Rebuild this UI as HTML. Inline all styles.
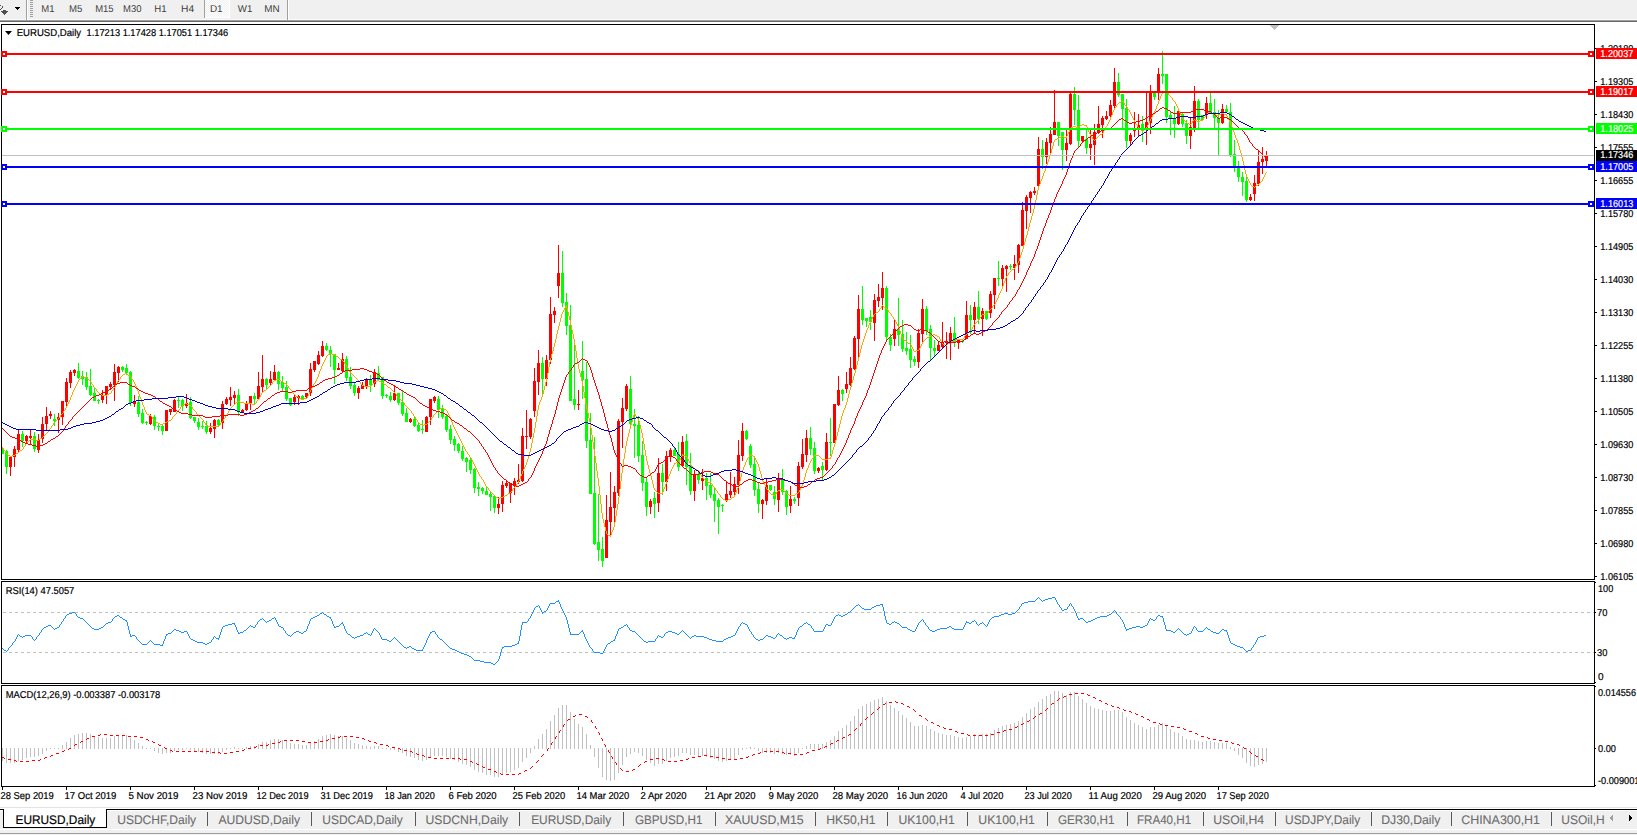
<!DOCTYPE html>
<html lang="en"><head><meta charset="utf-8"><title>EURUSD,Daily</title>
<style>html,body{margin:0;padding:0;background:#fff;overflow:hidden}svg{display:block;font-family:'Liberation Sans',sans-serif}text{white-space:pre;text-rendering:geometricPrecision}</style>
</head><body>
<svg width="1637" height="835" viewBox="0 0 1637 835">
<rect x="0" y="0" width="1637" height="835" fill="#fff"/>
<g id="toolbar">
<g shape-rendering="crispEdges">
<rect x="0" y="0" width="1637" height="20" fill="#f0f0f0"/>
<rect x="0" y="19" width="1637" height="1" fill="#fafafa"/>
<rect x="0" y="20" width="1637" height="1" fill="#a0a0a0"/>
<rect x="0" y="21" width="1637" height="1" fill="#696969"/>
<rect x="26" y="0" width="1" height="20" fill="#a0a0a0"/>
<rect x="27" y="0" width="1" height="20" fill="#ffffff"/>
<rect x="30" y="0" width="3" height="1" fill="#a0a0a0"/>
<rect x="30" y="2" width="3" height="1" fill="#a0a0a0"/>
<rect x="30" y="4" width="3" height="1" fill="#a0a0a0"/>
<rect x="30" y="6" width="3" height="1" fill="#a0a0a0"/>
<rect x="30" y="8" width="3" height="1" fill="#a0a0a0"/>
<rect x="30" y="10" width="3" height="1" fill="#a0a0a0"/>
<rect x="30" y="12" width="3" height="1" fill="#a0a0a0"/>
<rect x="30" y="14" width="3" height="1" fill="#a0a0a0"/>
<rect x="30" y="16" width="3" height="1" fill="#a0a0a0"/>
<pattern id="chk" width="2" height="2" patternUnits="userSpaceOnUse"><rect width="2" height="2" fill="#f0f0f0"/><rect width="1" height="1" fill="#fff"/><rect x="1" y="1" width="1" height="1" fill="#fff"/></pattern>
<rect x="205" y="0" width="24" height="17" fill="url(#chk)"/>
<rect x="204" y="0" width="1" height="18" fill="#a0a0a0"/>
<rect x="205" y="17" width="25" height="1" fill="#fff"/>
<rect x="229" y="0" width="1" height="18" fill="#fff"/>
<rect x="287" y="0" width="1" height="20" fill="#a0a0a0"/>
<rect x="288" y="0" width="1" height="20" fill="#ffffff"/>
</g>
<path shape-rendering="crispEdges" fill="#505050" d="M0 5h1v1h-1zM2 6h1v2h-1zM1 8h1v1h-1zM0 9h1v1h-1zM3 10h3v1h-3zM1 11h7v1h-7zM2 12h5v1h-5zM3 13h3v1h-3zM4 14h1v1h-1z"/>

<path shape-rendering="crispEdges" fill="#000" d="M15 7h5v1h-5zM16 8h3v1h-3zM17 9h1v1h-1z"/>
<text x="41.3" y="12" font-size="10" fill="#404040" textLength="13.2" lengthAdjust="spacingAndGlyphs">M1</text>
<text x="69.1" y="12" font-size="10" fill="#404040" textLength="13.3" lengthAdjust="spacingAndGlyphs">M5</text>
<text x="95.2" y="12" font-size="10" fill="#404040" textLength="18.4" lengthAdjust="spacingAndGlyphs">M15</text>
<text x="123.0" y="12" font-size="10" fill="#404040" textLength="18.4" lengthAdjust="spacingAndGlyphs">M30</text>
<text x="154.2" y="12" font-size="10" fill="#404040" textLength="12.3" lengthAdjust="spacingAndGlyphs">H1</text>
<text x="181.1" y="12" font-size="10" fill="#404040" textLength="13.1" lengthAdjust="spacingAndGlyphs">H4</text>
<text x="209.9" y="12" font-size="10" fill="#404040" textLength="12.7" lengthAdjust="spacingAndGlyphs">D1</text>
<text x="237.8" y="12" font-size="10" fill="#404040" textLength="14.5" lengthAdjust="spacingAndGlyphs">W1</text>
<text x="264.2" y="12" font-size="10" fill="#404040" textLength="15.4" lengthAdjust="spacingAndGlyphs">MN</text>
</g>
<g id="main-chart">
<g shape-rendering="crispEdges">
<path fill="#ff0000" d="M10 456h1v20h-1zM9 457h3v10h-3zM14 446h1v21h-1zM13 449h3v8h-3zM18 430h1v22h-1zM17 434h3v16h-3zM26 435h1v8h-1zM25 436h3v5h-3zM30 430h1v15h-1zM29 436h3v2h-3zM38 434h1v19h-1zM37 440h3v10h-3zM42 417h1v26h-1zM41 424h3v15h-3zM46 407h1v23h-1zM45 416h3v8h-3zM50 411h1v8h-1zM49 414h3v2h-3zM58 413h1v20h-1zM57 417h3v3h-3zM62 401h1v24h-1zM61 401h3v16h-3zM66 378h1v28h-1zM65 382h3v20h-3zM70 370h1v18h-1zM69 372h3v11h-3zM74 369h1v7h-1zM73 370h3v3h-3zM102 390h1v13h-1zM101 395h3v5h-3zM106 386h1v18h-1zM105 386h3v9h-3zM110 382h1v8h-1zM109 384h3v3h-3zM114 364h1v37h-1zM113 372h3v13h-3zM118 366h1v16h-1zM117 367h3v6h-3zM134 395h1v12h-1zM133 401h3v3h-3zM150 414h1v11h-1zM149 416h3v8h-3zM166 410h1v21h-1zM165 410h3v21h-3zM170 409h1v6h-1zM169 409h3v3h-3zM174 399h1v13h-1zM173 400h3v12h-3zM186 394h1v14h-1zM185 403h3v3h-3zM210 423h1v11h-1zM209 428h3v4h-3zM214 419h1v19h-1zM213 420h3v9h-3zM222 401h1v28h-1zM221 404h3v19h-3zM226 397h1v8h-1zM225 399h3v5h-3zM230 387h1v19h-1zM229 397h3v3h-3zM234 391h1v14h-1zM233 395h3v3h-3zM242 409h1v4h-1zM241 410h3v3h-3zM246 401h1v10h-1zM245 404h3v6h-3zM250 396h1v14h-1zM249 396h3v7h-3zM258 372h1v27h-1zM257 386h3v13h-3zM262 355h1v37h-1zM261 379h3v8h-3zM270 371h1v14h-1zM269 379h3v4h-3zM274 365h1v15h-1zM273 372h3v8h-3zM294 395h1v10h-1zM293 397h3v5h-3zM298 395h1v10h-1zM297 396h3v2h-3zM306 393h1v6h-1zM305 393h3v4h-3zM310 363h1v33h-1zM309 369h3v24h-3zM314 361h1v11h-1zM313 361h3v9h-3zM318 351h1v14h-1zM317 355h3v9h-3zM322 341h1v16h-1zM321 346h3v10h-3zM338 363h1v7h-1zM337 368h3v2h-3zM342 353h1v19h-1zM341 359h3v12h-3zM358 386h1v13h-1zM357 388h3v5h-3zM362 382h1v7h-1zM361 385h3v4h-3zM366 378h1v11h-1zM365 380h3v6h-3zM374 369h1v18h-1zM373 372h3v12h-3zM394 386h1v15h-1zM393 393h3v7h-3zM410 418h1v5h-1zM409 419h3v3h-3zM426 416h1v16h-1zM425 417h3v15h-3zM430 399h1v26h-1zM429 399h3v18h-3zM434 396h1v7h-1zM433 397h3v4h-3zM498 497h1v17h-1zM497 504h3v4h-3zM502 481h1v31h-1zM501 485h3v19h-3zM506 480h1v8h-1zM505 483h3v3h-3zM510 483h1v20h-1zM509 483h3v10h-3zM514 478h1v17h-1zM513 481h3v4h-3zM518 464h1v20h-1zM517 480h3v2h-3zM522 428h1v54h-1zM521 436h3v45h-3zM526 410h1v39h-1zM525 436h3v1h-3zM530 418h1v21h-1zM529 419h3v18h-3zM534 368h1v49h-1zM533 381h3v30h-3zM538 350h1v45h-1zM537 363h3v19h-3zM546 355h1v31h-1zM545 360h3v19h-3zM550 297h1v67h-1zM549 314h3v46h-3zM554 307h1v16h-1zM553 311h3v4h-3zM558 245h1v53h-1zM557 273h3v13h-3zM578 390h1v20h-1zM577 404h3v1h-3zM606 495h1v63h-1zM605 520h3v38h-3zM610 472h1v64h-1zM609 507h3v15h-3zM614 486h1v37h-1zM613 492h3v16h-3zM618 419h1v77h-1zM617 421h3v72h-3zM622 398h1v50h-1zM621 408h3v14h-3zM626 384h1v27h-1zM625 386h3v23h-3zM650 499h1v15h-1zM649 501h3v6h-3zM658 458h1v54h-1zM657 473h3v30h-3zM666 451h1v40h-1zM665 456h3v26h-3zM670 448h1v14h-1zM669 450h3v7h-3zM682 436h1v31h-1zM681 442h3v24h-3zM694 470h1v31h-1zM693 474h3v17h-3zM702 469h1v21h-1zM701 478h3v3h-3zM726 481h1v21h-1zM725 494h3v6h-3zM730 472h1v26h-1zM729 491h3v4h-3zM734 477h1v19h-1zM733 484h3v8h-3zM738 440h1v54h-1zM737 455h3v30h-3zM742 423h1v38h-1zM741 431h3v25h-3zM762 499h1v20h-1zM761 500h3v4h-3zM766 478h1v27h-1zM765 485h3v16h-3zM778 473h1v39h-1zM777 480h3v20h-3zM790 486h1v27h-1zM789 499h3v7h-3zM798 462h1v44h-1zM797 466h3v32h-3zM802 439h1v30h-1zM801 454h3v13h-3zM806 430h1v32h-1zM805 438h3v17h-3zM818 467h1v6h-1zM817 468h3v3h-3zM826 433h1v38h-1zM825 442h3v28h-3zM834 404h1v39h-1zM833 404h3v39h-3zM838 376h1v30h-1zM837 390h3v15h-3zM846 372h1v21h-1zM845 384h3v5h-3zM850 357h1v29h-1zM849 368h3v17h-3zM854 336h1v34h-1zM853 338h3v31h-3zM858 295h1v62h-1zM857 309h3v30h-3zM874 294h1v47h-1zM873 300h3v23h-3zM878 284h1v23h-1zM877 297h3v4h-3zM882 272h1v38h-1zM881 288h3v10h-3zM894 320h1v26h-1zM893 329h3v10h-3zM918 329h1v39h-1zM917 333h3v29h-3zM922 299h1v43h-1zM921 309h3v25h-3zM938 341h1v10h-1zM937 345h3v6h-3zM942 322h1v26h-1zM941 342h3v5h-3zM946 332h1v27h-1zM945 341h3v2h-3zM950 327h1v33h-1zM949 333h3v9h-3zM958 339h1v10h-1zM957 340h3v3h-3zM966 301h1v38h-1zM965 315h3v24h-3zM974 302h1v31h-1zM973 307h3v13h-3zM982 308h1v28h-1zM981 311h3v8h-3zM990 291h1v27h-1zM989 294h3v19h-3zM994 278h1v31h-1zM993 278h3v17h-3zM1002 265h1v21h-1zM1001 268h3v11h-3zM1006 265h1v27h-1zM1005 266h3v3h-3zM1014 255h1v25h-1zM1013 264h3v4h-3zM1018 244h1v29h-1zM1017 245h3v20h-3zM1022 202h1v44h-1zM1021 210h3v36h-3zM1026 195h1v34h-1zM1025 197h3v14h-3zM1030 191h1v22h-1zM1029 192h3v6h-3zM1034 187h1v8h-1zM1033 191h3v2h-3zM1038 137h1v50h-1zM1037 149h3v37h-3zM1046 138h1v26h-1zM1045 142h3v15h-3zM1050 127h1v26h-1zM1049 134h3v9h-3zM1054 90h1v45h-1zM1053 122h3v13h-3zM1066 130h1v31h-1zM1065 143h3v7h-3zM1070 92h1v53h-1zM1069 94h3v50h-3zM1082 136h1v6h-1zM1081 136h3v5h-3zM1090 129h1v31h-1zM1089 144h3v4h-3zM1094 124h1v41h-1zM1093 132h3v13h-3zM1098 106h1v28h-1zM1097 124h3v9h-3zM1102 116h1v22h-1zM1101 118h3v7h-3zM1106 111h1v9h-1zM1105 116h3v3h-3zM1110 100h1v18h-1zM1109 105h3v11h-3zM1114 68h1v41h-1zM1113 82h3v24h-3zM1130 133h1v13h-1zM1129 135h3v6h-3zM1134 112h1v25h-1zM1133 130h3v1h-3zM1138 114h1v23h-1zM1137 125h3v3h-3zM1146 93h1v52h-1zM1145 122h3v6h-3zM1150 85h1v49h-1zM1149 92h3v31h-3zM1158 68h1v32h-1zM1157 74h3v18h-3zM1178 110h1v15h-1zM1177 111h3v13h-3zM1190 118h1v31h-1zM1189 127h3v9h-3zM1194 86h1v46h-1zM1193 101h3v27h-3zM1206 97h1v22h-1zM1205 103h3v12h-3zM1222 104h1v20h-1zM1221 109h3v14h-3zM1250 194h1v7h-1zM1249 197h3v3h-3zM1254 175h1v26h-1zM1253 183h3v11h-3zM1258 151h1v35h-1zM1257 162h3v22h-3zM1262 147h1v27h-1zM1261 159h3v3h-3zM1266 151h1v15h-1zM1265 155h3v6h-3z"/>
<path fill="#00ff00" d="M2 448h1v6h-1zM1 449h3v5h-3zM6 450h1v24h-1zM5 451h3v16h-3zM22 431h1v16h-1zM21 434h3v7h-3zM34 432h1v20h-1zM33 436h3v13h-3zM54 414h1v12h-1zM53 419h3v2h-3zM78 363h1v16h-1zM77 371h3v7h-3zM82 371h1v14h-1zM81 376h3v3h-3zM86 372h1v18h-1zM85 377h3v10h-3zM90 369h1v27h-1zM89 386h3v9h-3zM94 388h1v13h-1zM93 393h3v8h-3zM98 399h1v5h-1zM97 400h3v1h-3zM122 366h1v6h-1zM121 367h3v3h-3zM126 364h1v11h-1zM125 368h3v5h-3zM130 371h1v35h-1zM129 372h3v31h-3zM138 396h1v21h-1zM137 402h3v12h-3zM142 409h1v15h-1zM141 413h3v10h-3zM146 421h1v4h-1zM145 422h3v1h-3zM154 415h1v15h-1zM153 417h3v9h-3zM158 424h1v7h-1zM157 426h3v1h-3zM162 424h1v11h-1zM161 426h3v5h-3zM178 397h1v11h-1zM177 400h3v1h-3zM182 399h1v12h-1zM181 400h3v6h-3zM190 397h1v22h-1zM189 402h3v16h-3zM194 417h1v6h-1zM193 417h3v4h-3zM198 418h1v12h-1zM197 422h3v5h-3zM202 421h1v8h-1zM201 426h3v1h-3zM206 421h1v13h-1zM205 426h3v6h-3zM218 419h1v7h-1zM217 420h3v5h-3zM238 389h1v27h-1zM237 395h3v16h-3zM254 393h1v11h-1zM253 396h3v3h-3zM266 378h1v11h-1zM265 379h3v6h-3zM278 371h1v19h-1zM277 372h3v12h-3zM282 376h1v15h-1zM281 382h3v6h-3zM286 381h1v20h-1zM285 387h3v12h-3zM290 398h1v8h-1zM289 398h3v7h-3zM302 395h1v5h-1zM301 396h3v3h-3zM326 343h1v8h-1zM325 346h3v4h-3zM330 346h1v21h-1zM329 350h3v4h-3zM334 354h1v30h-1zM333 354h3v16h-3zM346 356h1v25h-1zM345 359h3v19h-3zM350 367h1v22h-1zM349 377h3v9h-3zM354 382h1v14h-1zM353 385h3v8h-3zM370 375h1v17h-1zM369 380h3v5h-3zM378 366h1v15h-1zM377 373h3v7h-3zM382 377h1v22h-1zM381 377h3v19h-3zM386 394h1v4h-1zM385 395h3v1h-3zM390 392h1v10h-1zM389 396h3v4h-3zM398 393h1v12h-1zM397 393h3v10h-3zM402 390h1v26h-1zM401 402h3v12h-3zM406 408h1v14h-1zM405 413h3v9h-3zM414 417h1v10h-1zM413 419h3v7h-3zM418 422h1v10h-1zM417 425h3v6h-3zM422 420h1v14h-1zM421 429h3v1h-3zM438 396h1v22h-1zM437 399h3v11h-3zM442 405h1v14h-1zM441 408h3v9h-3zM446 415h1v17h-1zM445 416h3v14h-3zM450 425h1v19h-1zM449 429h3v11h-3zM454 436h1v15h-1zM453 439h3v6h-3zM458 443h1v10h-1zM457 444h3v7h-3zM462 446h1v15h-1zM461 451h3v8h-3zM466 457h1v15h-1zM465 458h3v4h-3zM470 457h1v17h-1zM469 460h3v10h-3zM474 468h1v25h-1zM473 469h3v19h-3zM478 482h1v14h-1zM477 487h3v2h-3zM482 487h1v7h-1zM481 488h3v3h-3zM486 486h1v9h-1zM485 491h3v4h-3zM490 492h1v19h-1zM489 494h3v3h-3zM494 496h1v17h-1zM493 496h3v12h-3zM542 357h1v37h-1zM541 363h3v16h-3zM562 251h1v56h-1zM561 273h3v30h-3zM566 293h1v42h-1zM565 302h3v24h-3zM570 305h1v96h-1zM569 325h3v76h-3zM574 345h1v65h-1zM573 399h3v6h-3zM582 341h1v58h-1zM581 371h3v9h-3zM586 362h1v86h-1zM585 379h3v62h-3zM590 413h1v81h-1zM589 440h3v54h-3zM594 437h1v108h-1zM593 493h3v51h-3zM598 494h1v67h-1zM597 542h3v8h-3zM602 537h1v30h-1zM601 549h3v12h-3zM630 376h1v49h-1zM629 389h3v35h-3zM634 409h1v49h-1zM633 424h3v2h-3zM638 416h1v46h-1zM637 425h3v31h-3zM642 441h1v50h-1zM641 455h3v28h-3zM646 478h1v38h-1zM645 482h3v25h-3zM654 492h1v26h-1zM653 498h3v6h-3zM662 464h1v31h-1zM661 473h3v9h-3zM674 448h1v8h-1zM673 450h3v6h-3zM678 442h1v29h-1zM677 454h3v13h-3zM686 434h1v51h-1zM685 441h3v26h-3zM690 453h1v42h-1zM689 466h3v25h-3zM698 470h1v14h-1zM697 474h3v6h-3zM706 473h1v27h-1zM705 478h3v8h-3zM710 473h1v25h-1zM709 485h3v10h-3zM714 488h1v34h-1zM713 494h3v7h-3zM718 498h1v36h-1zM717 500h3v7h-3zM722 504h1v8h-1zM721 505h3v1h-3zM746 430h1v10h-1zM745 431h3v8h-3zM750 444h1v24h-1zM749 446h3v19h-3zM754 458h1v38h-1zM753 464h3v26h-3zM758 483h1v30h-1zM757 489h3v15h-3zM770 485h1v6h-1zM769 485h3v5h-3zM774 486h1v19h-1zM773 492h3v7h-3zM782 469h1v26h-1zM781 480h3v12h-3zM786 490h1v25h-1zM785 491h3v16h-3zM794 497h1v7h-1zM793 499h3v2h-3zM810 427h1v28h-1zM809 438h3v11h-3zM814 442h1v32h-1zM813 448h3v23h-3zM822 462h1v18h-1zM821 466h3v4h-3zM830 418h1v38h-1zM829 442h3v1h-3zM842 389h1v12h-1zM841 390h3v4h-3zM862 286h1v39h-1zM861 309h3v11h-3zM866 318h1v9h-1zM865 318h3v3h-3zM870 310h1v20h-1zM869 317h3v5h-3zM886 286h1v55h-1zM885 288h3v49h-3zM890 334h1v17h-1zM889 337h3v8h-3zM898 298h1v48h-1zM897 329h3v6h-3zM902 320h1v32h-1zM901 334h3v15h-3zM906 332h1v23h-1zM905 348h3v3h-3zM910 335h1v33h-1zM909 349h3v11h-3zM914 356h1v10h-1zM913 359h3v3h-3zM926 306h1v29h-1zM925 309h3v22h-3zM930 325h1v35h-1zM929 329h3v19h-3zM934 340h1v17h-1zM933 348h3v3h-3zM954 317h1v30h-1zM953 333h3v9h-3zM962 340h1v3h-1zM961 341h3v1h-3zM970 305h1v29h-1zM969 315h3v5h-3zM978 291h1v33h-1zM977 307h3v12h-3zM986 311h1v9h-1zM985 311h3v8h-3zM998 261h1v25h-1zM997 278h3v1h-3zM1010 264h1v6h-1zM1009 266h3v1h-3zM1042 140h1v29h-1zM1041 149h3v8h-3zM1058 122h1v24h-1zM1057 122h3v14h-3zM1062 132h1v38h-1zM1061 132h3v18h-3zM1074 87h1v38h-1zM1073 94h3v16h-3zM1078 95h1v52h-1zM1077 110h3v31h-3zM1086 129h1v25h-1zM1085 139h3v9h-3zM1118 73h1v24h-1zM1117 82h3v13h-3zM1122 94h1v36h-1zM1121 94h3v15h-3zM1126 99h1v49h-1zM1125 108h3v33h-3zM1142 116h1v26h-1zM1141 124h3v4h-3zM1154 92h1v8h-1zM1153 93h3v4h-3zM1162 51h1v33h-1zM1161 74h3v2h-3zM1166 74h1v49h-1zM1165 74h3v43h-3zM1170 112h1v23h-1zM1169 115h3v4h-3zM1174 106h1v32h-1zM1173 118h3v6h-3zM1182 113h1v14h-1zM1181 114h3v10h-3zM1186 120h1v24h-1zM1185 123h3v13h-3zM1198 99h1v29h-1zM1197 101h3v19h-3zM1202 115h1v5h-1zM1201 115h3v5h-3zM1210 93h1v20h-1zM1209 103h3v9h-3zM1214 99h1v29h-1zM1213 112h3v6h-3zM1218 110h1v45h-1zM1217 118h3v5h-3zM1226 105h1v8h-1zM1225 109h3v3h-3zM1230 103h1v54h-1zM1229 112h3v44h-3zM1234 140h1v32h-1zM1233 154h3v13h-3zM1238 161h1v21h-1zM1237 166h3v11h-3zM1242 172h1v24h-1zM1241 177h3v5h-3zM1246 177h1v25h-1zM1245 181h3v19h-3z"/>
</g>
<g shape-rendering="crispEdges">
<path fill="#ffa500" d="M1164 91h3v1h-3zM1163 92h1v1h-1zM1167 92h1v1h-1zM1162 92h1v2h-1zM1168 93h1v2h-1zM1161 94h1v2h-1zM1169 95h1v1h-1zM1170 96h1v1h-1zM1160 96h1v3h-1zM1171 97h1v1h-1zM1172 98h1v2h-1zM1159 99h1v2h-1zM1173 100h1v1h-1zM1121 101h2v1h-2zM1174 101h1v1h-1zM1158 101h1v3h-1zM1119 102h2v1h-2zM1123 102h1v1h-1zM1175 102h1v2h-1zM1118 103h1v1h-1zM1124 103h1v2h-1zM1117 104h1v1h-1zM1157 104h1v2h-1zM1176 104h1v2h-1zM1125 105h1v1h-1zM1116 105h1v2h-1zM1126 106h1v1h-1zM1177 106h1v2h-1zM1156 106h1v3h-1zM1115 107h1v1h-1zM1127 107h1v2h-1zM1114 108h1v2h-1zM1178 108h1v3h-1zM1128 109h1v1h-1zM1155 109h1v2h-1zM1113 110h1v2h-1zM1129 110h1v2h-1zM1210 111h1v1h-1zM1154 111h1v2h-1zM1179 111h1v2h-1zM1208 112h2v1h-2zM1211 112h1v1h-1zM1130 112h1v2h-1zM1112 112h1v3h-1zM1207 113h1v1h-1zM1212 113h2v1h-2zM1221 113h3v1h-3zM1153 113h1v2h-1zM1180 113h1v2h-1zM1206 114h1v1h-1zM1214 114h2v1h-2zM1219 114h2v1h-2zM1224 114h2v1h-2zM1131 114h1v2h-1zM1226 114h1v2h-1zM1216 115h3v1h-3zM1111 115h1v2h-1zM1152 115h1v2h-1zM1181 115h1v2h-1zM1205 115h1v2h-1zM1132 116h1v2h-1zM1227 116h1v2h-1zM1204 117h1v1h-1zM1151 117h1v2h-1zM1182 117h1v2h-1zM1110 117h1v3h-1zM1133 118h1v2h-1zM1203 118h1v2h-1zM1228 118h1v2h-1zM1183 119h1v1h-1zM1194 119h1v1h-1zM1150 119h1v2h-1zM1184 120h1v1h-1zM1193 120h1v1h-1zM1195 120h2v1h-2zM1200 120h3v1h-3zM1109 120h1v2h-1zM1134 120h1v2h-1zM1229 120h1v2h-1zM1185 121h1v1h-1zM1197 121h3v1h-3zM1149 121h1v2h-1zM1192 121h1v2h-1zM1186 122h1v1h-1zM1108 122h1v2h-1zM1135 122h1v2h-1zM1230 122h1v3h-1zM1187 123h2v1h-2zM1191 123h1v1h-1zM1148 123h1v2h-1zM1082 124h2v1h-2zM1136 124h1v1h-1zM1189 124h2v1h-2zM1107 124h1v2h-1zM1080 125h2v1h-2zM1084 125h2v1h-2zM1086 125h1v2h-1zM1137 125h1v2h-1zM1147 125h1v2h-1zM1231 125h1v2h-1zM1073 126h3v1h-3zM1079 126h1v1h-1zM1106 126h1v1h-1zM1071 127h2v1h-2zM1076 127h3v1h-3zM1138 127h1v1h-1zM1146 127h1v1h-1zM1087 127h1v2h-1zM1105 127h1v2h-1zM1232 127h1v3h-1zM1139 128h1v1h-1zM1145 128h1v1h-1zM1070 128h1v2h-1zM1140 129h1v1h-1zM1144 129h1v1h-1zM1104 129h1v2h-1zM1088 129h1v3h-1zM1141 130h1v1h-1zM1143 130h1v1h-1zM1069 130h1v2h-1zM1233 130h1v2h-1zM1142 131h1v1h-1zM1103 131h1v2h-1zM1068 132h1v2h-1zM1089 132h1v2h-1zM1234 132h1v3h-1zM1102 133h1v1h-1zM1100 134h2v1h-2zM1067 134h1v2h-1zM1090 134h1v2h-1zM1099 135h1v1h-1zM1235 135h1v3h-1zM1061 136h3v1h-3zM1091 136h1v1h-1zM1098 136h1v1h-1zM1066 136h1v2h-1zM1059 137h2v1h-2zM1064 137h2v1h-2zM1097 137h1v1h-1zM1092 137h1v2h-1zM1057 138h2v1h-2zM1096 138h1v1h-1zM1236 138h1v2h-1zM1055 139h2v1h-2zM1093 139h1v1h-1zM1095 139h1v1h-1zM1094 140h1v1h-1zM1054 140h1v2h-1zM1237 140h1v3h-1zM1053 142h1v4h-1zM1238 143h1v3h-1zM1052 146h1v3h-1zM1239 146h1v4h-1zM1051 149h1v4h-1zM1240 150h1v3h-1zM1050 153h1v3h-1zM1241 153h1v4h-1zM1049 156h1v3h-1zM1242 157h1v4h-1zM1048 159h1v3h-1zM1243 161h1v4h-1zM1047 162h1v3h-1zM1046 165h1v3h-1zM1244 165h1v5h-1zM1045 168h1v3h-1zM1245 170h1v4h-1zM1044 171h1v2h-1zM1266 172h1v1h-1zM1265 173h1v2h-1zM1043 173h1v3h-1zM1246 174h1v3h-1zM1264 175h1v2h-1zM1042 176h1v3h-1zM1247 177h1v2h-1zM1263 177h1v2h-1zM1041 179h1v2h-1zM1248 179h1v2h-1zM1262 179h1v2h-1zM1261 181h1v1h-1zM1249 181h1v2h-1zM1040 181h1v3h-1zM1260 182h1v1h-1zM1259 183h1v1h-1zM1250 183h1v2h-1zM1258 184h1v1h-1zM1039 184h1v2h-1zM1251 185h1v1h-1zM1256 185h2v1h-2zM1252 186h2v1h-2zM1255 186h1v1h-1zM1038 186h1v4h-1zM1254 187h1v1h-1zM1037 190h1v5h-1zM1036 195h1v5h-1zM1035 200h1v5h-1zM1034 205h1v4h-1zM1033 209h1v4h-1zM1032 213h1v3h-1zM1031 216h1v4h-1zM1030 220h1v3h-1zM1029 223h1v4h-1zM1028 227h1v4h-1zM1027 231h1v4h-1zM1026 235h1v3h-1zM1025 238h1v4h-1zM1024 242h1v3h-1zM1023 245h1v4h-1zM1022 249h1v3h-1zM1021 252h1v3h-1zM1020 255h1v3h-1zM1019 258h1v3h-1zM1018 261h1v2h-1zM1017 263h1v2h-1zM1016 265h1v1h-1zM1015 266h1v2h-1zM1014 268h1v1h-1zM1012 269h2v1h-2zM1011 270h1v1h-1zM1010 271h1v1h-1zM1009 272h1v1h-1zM1008 273h1v2h-1zM1007 275h1v1h-1zM1006 276h1v2h-1zM1005 278h1v3h-1zM1004 281h1v2h-1zM1003 283h1v3h-1zM1002 286h1v3h-1zM1001 289h1v2h-1zM1000 291h1v2h-1zM999 293h1v2h-1zM998 295h1v3h-1zM997 298h1v2h-1zM996 300h1v2h-1zM995 302h1v2h-1zM994 304h1v1h-1zM882 305h1v1h-1zM993 305h1v1h-1zM566 305h1v3h-1zM883 306h1v1h-1zM565 306h1v2h-1zM881 306h1v2h-1zM992 306h1v2h-1zM884 307h2v1h-2zM880 308h1v1h-1zM886 308h1v1h-1zM991 308h1v1h-1zM564 308h1v2h-1zM567 308h1v4h-1zM887 309h1v1h-1zM990 309h1v1h-1zM879 309h1v2h-1zM989 310h1v1h-1zM563 310h1v2h-1zM888 310h1v2h-1zM878 311h1v1h-1zM988 311h1v2h-1zM876 312h2v1h-2zM889 312h1v1h-1zM562 312h1v2h-1zM568 312h1v4h-1zM875 313h1v1h-1zM890 313h1v1h-1zM987 313h1v1h-1zM874 314h1v1h-1zM982 314h5v1h-5zM891 314h1v2h-1zM561 314h1v4h-1zM873 315h1v2h-1zM981 315h1v2h-1zM892 316h1v1h-1zM569 316h1v4h-1zM980 317h1v1h-1zM872 317h1v2h-1zM893 317h1v2h-1zM979 318h1v2h-1zM560 318h1v4h-1zM894 319h1v1h-1zM871 319h1v2h-1zM978 320h1v1h-1zM895 320h1v2h-1zM570 320h1v5h-1zM977 321h1v1h-1zM870 321h1v2h-1zM976 322h1v1h-1zM896 322h1v2h-1zM559 322h1v4h-1zM975 323h1v1h-1zM869 323h1v2h-1zM974 324h1v1h-1zM897 324h1v2h-1zM973 325h1v2h-1zM868 325h1v3h-1zM571 325h1v5h-1zM898 326h1v2h-1zM558 326h1v4h-1zM972 327h1v2h-1zM867 328h1v2h-1zM899 328h1v3h-1zM971 329h1v2h-1zM866 330h1v3h-1zM557 330h1v4h-1zM572 330h1v4h-1zM970 331h1v1h-1zM900 331h1v3h-1zM968 332h2v1h-2zM967 333h1v1h-1zM865 333h1v3h-1zM933 334h2v1h-2zM966 334h1v1h-1zM901 334h1v3h-1zM556 334h1v5h-1zM573 334h1v5h-1zM931 335h2v1h-2zM935 335h2v1h-2zM965 335h1v1h-1zM929 336h2v1h-2zM937 336h2v1h-2zM964 336h1v2h-1zM864 336h1v3h-1zM927 337h2v1h-2zM902 337h1v2h-1zM939 337h1v2h-1zM926 338h1v1h-1zM963 338h1v1h-1zM903 339h1v1h-1zM925 339h1v1h-1zM956 339h7v1h-7zM940 339h1v2h-1zM863 339h1v3h-1zM555 339h1v4h-1zM574 339h1v6h-1zM904 340h2v1h-2zM924 340h1v1h-1zM953 340h3v1h-3zM906 341h1v1h-1zM923 341h1v1h-1zM951 341h2v1h-2zM941 341h1v2h-1zM907 342h1v1h-1zM950 342h1v1h-1zM922 342h1v2h-1zM862 342h1v3h-1zM908 343h2v1h-2zM942 343h1v1h-1zM948 343h2v1h-2zM554 343h1v4h-1zM910 344h1v1h-1zM943 344h2v1h-2zM947 344h1v1h-1zM921 344h1v2h-1zM945 345h2v1h-2zM911 345h1v2h-1zM861 345h1v4h-1zM575 345h1v6h-1zM920 346h1v2h-1zM912 347h1v2h-1zM553 347h1v4h-1zM919 348h1v2h-1zM913 349h1v2h-1zM860 349h1v4h-1zM916 350h3v1h-3zM914 351h2v1h-2zM552 351h1v3h-1zM576 351h1v7h-1zM330 353h2v1h-2zM859 353h1v4h-1zM328 354h2v1h-2zM332 354h3v1h-3zM551 354h1v4h-1zM327 355h1v1h-1zM335 355h1v1h-1zM336 356h2v1h-2zM326 356h1v2h-1zM338 357h1v1h-1zM858 357h1v4h-1zM339 358h1v1h-1zM325 358h1v2h-1zM550 358h1v4h-1zM577 358h1v6h-1zM340 359h2v1h-2zM342 360h1v1h-1zM324 360h1v2h-1zM343 361h1v1h-1zM857 361h1v4h-1zM323 362h1v2h-1zM344 362h1v2h-1zM549 362h1v5h-1zM345 364h1v1h-1zM322 364h1v2h-1zM578 364h1v5h-1zM346 365h1v1h-1zM856 365h1v4h-1zM347 366h1v2h-1zM321 366h1v3h-1zM548 367h1v6h-1zM348 368h1v2h-1zM320 369h1v2h-1zM579 369h1v4h-1zM855 369h1v4h-1zM349 370h1v2h-1zM319 371h1v3h-1zM350 372h1v1h-1zM125 373h2v1h-2zM351 373h1v1h-1zM854 373h1v3h-1zM580 373h1v4h-1zM547 373h1v5h-1zM123 374h2v1h-2zM127 374h1v1h-1zM352 374h1v1h-1zM318 374h1v3h-1zM122 375h1v1h-1zM128 375h2v1h-2zM353 375h1v1h-1zM82 376h2v1h-2zM121 376h1v1h-1zM130 376h1v1h-1zM354 376h1v1h-1zM853 376h1v4h-1zM81 377h1v1h-1zM84 377h3v1h-3zM355 377h1v1h-1zM120 377h1v2h-1zM131 377h1v2h-1zM317 377h1v2h-1zM581 377h1v4h-1zM80 378h1v1h-1zM87 378h1v1h-1zM356 378h1v1h-1zM546 378h1v4h-1zM79 379h1v1h-1zM88 379h1v1h-1zM119 379h1v1h-1zM132 379h1v1h-1zM276 379h3v1h-3zM357 379h1v1h-1zM316 379h1v2h-1zM89 380h1v1h-1zM118 380h1v1h-1zM274 380h2v1h-2zM279 380h2v1h-2zM358 380h1v1h-1zM377 380h2v1h-2zM78 380h1v2h-1zM133 380h1v2h-1zM852 380h1v3h-1zM90 381h1v1h-1zM273 381h1v1h-1zM281 381h2v1h-2zM359 381h1v1h-1zM375 381h2v1h-2zM379 381h2v1h-2zM117 381h1v2h-1zM315 381h1v2h-1zM582 381h1v5h-1zM283 382h1v1h-1zM374 382h1v1h-1zM381 382h2v1h-2zM77 382h1v2h-1zM91 382h1v2h-1zM134 382h1v2h-1zM272 382h1v2h-1zM360 382h1v2h-1zM545 382h1v4h-1zM284 383h2v1h-2zM314 383h1v1h-1zM373 383h1v1h-1zM383 383h1v1h-1zM116 383h1v2h-1zM851 383h1v4h-1zM92 384h1v1h-1zM271 384h1v1h-1zM286 384h1v1h-1zM361 384h1v1h-1zM372 384h1v1h-1zM384 384h2v1h-2zM76 384h1v2h-1zM135 384h1v2h-1zM313 384h1v2h-1zM270 385h1v1h-1zM287 385h1v1h-1zM362 385h2v1h-2zM371 385h1v1h-1zM386 385h1v1h-1zM93 385h1v2h-1zM115 385h1v2h-1zM269 386h1v1h-1zM364 386h7v1h-7zM387 386h1v1h-1zM75 386h1v2h-1zM288 386h1v2h-1zM312 386h1v2h-1zM136 386h1v3h-1zM544 386h1v4h-1zM583 386h1v6h-1zM94 387h1v1h-1zM114 387h1v1h-1zM268 387h1v1h-1zM388 387h2v1h-2zM850 387h1v3h-1zM95 388h1v1h-1zM267 388h1v1h-1zM289 388h1v1h-1zM390 388h1v1h-1zM74 388h1v2h-1zM113 388h1v2h-1zM311 388h1v2h-1zM266 389h1v1h-1zM290 389h1v1h-1zM391 389h1v1h-1zM96 389h1v2h-1zM137 389h1v2h-1zM112 390h1v1h-1zM264 390h2v1h-2zM291 390h1v1h-1zM392 390h1v1h-1zM73 390h1v2h-1zM310 390h1v2h-1zM543 390h1v4h-1zM849 390h1v4h-1zM97 391h1v1h-1zM263 391h1v1h-1zM393 391h1v1h-1zM111 391h1v2h-1zM292 391h1v2h-1zM138 391h1v3h-1zM98 392h1v1h-1zM262 392h1v1h-1zM394 392h1v1h-1zM309 392h1v2h-1zM72 392h1v3h-1zM584 392h1v6h-1zM99 393h1v1h-1zM109 393h2v1h-2zM293 393h1v1h-1zM395 393h1v1h-1zM261 393h1v2h-1zM100 394h2v1h-2zM107 394h2v1h-2zM294 394h1v1h-1zM308 394h1v2h-1zM396 394h1v2h-1zM139 394h1v3h-1zM542 394h1v3h-1zM848 394h1v4h-1zM102 395h5v1h-5zM295 395h1v1h-1zM71 395h1v2h-1zM260 395h1v2h-1zM296 396h2v1h-2zM397 396h1v1h-1zM307 396h1v2h-1zM298 397h1v1h-1zM398 397h1v1h-1zM140 397h1v2h-1zM259 397h1v2h-1zM70 397h1v3h-1zM541 397h1v3h-1zM299 398h2v1h-2zM304 398h3v1h-3zM399 398h1v1h-1zM847 398h1v4h-1zM585 398h1v6h-1zM258 399h1v1h-1zM301 399h3v1h-3zM400 399h1v1h-1zM141 399h1v3h-1zM257 400h1v1h-1zM401 400h1v1h-1zM69 400h1v2h-1zM540 400h1v2h-1zM238 401h2v1h-2zM402 401h1v1h-1zM256 401h1v2h-1zM236 402h2v1h-2zM240 402h4v1h-4zM403 402h1v1h-1zM68 402h1v2h-1zM142 402h1v3h-1zM539 402h1v3h-1zM846 402h1v3h-1zM185 403h2v1h-2zM235 403h1v1h-1zM244 403h8v1h-8zM255 403h1v1h-1zM404 403h1v2h-1zM183 404h2v1h-2zM187 404h2v1h-2zM234 404h1v1h-1zM252 404h3v1h-3zM67 404h1v2h-1zM586 404h1v5h-1zM182 405h1v1h-1zM189 405h2v1h-2zM233 405h1v1h-1zM405 405h1v1h-1zM143 405h1v2h-1zM845 405h1v3h-1zM538 405h1v5h-1zM181 406h1v1h-1zM191 406h1v1h-1zM232 406h1v1h-1zM406 406h1v1h-1zM66 406h1v2h-1zM231 407h1v1h-1zM407 407h1v1h-1zM442 407h1v1h-1zM180 407h1v2h-1zM192 407h1v2h-1zM144 407h1v3h-1zM230 408h1v1h-1zM408 408h1v1h-1zM440 408h2v1h-2zM443 408h1v1h-1zM65 408h1v2h-1zM844 408h1v2h-1zM179 409h1v1h-1zM193 409h1v1h-1zM409 409h1v1h-1zM439 409h1v1h-1zM444 409h2v1h-2zM229 409h1v2h-1zM587 409h1v4h-1zM64 410h1v1h-1zM178 410h1v1h-1zM194 410h1v1h-1zM410 410h1v1h-1zM438 410h1v1h-1zM446 410h1v1h-1zM145 410h1v2h-1zM843 410h1v3h-1zM537 410h1v6h-1zM177 411h1v1h-1zM195 411h1v1h-1zM437 411h1v1h-1zM63 411h1v2h-1zM228 411h1v2h-1zM411 411h1v2h-1zM447 411h1v2h-1zM436 412h1v1h-1zM146 412h1v2h-1zM176 412h1v2h-1zM196 412h1v2h-1zM62 413h1v1h-1zM412 413h1v1h-1zM435 413h1v1h-1zM227 413h1v2h-1zM448 413h1v2h-1zM634 413h1v2h-1zM842 413h1v3h-1zM588 413h1v5h-1zM61 414h1v1h-1zM147 414h2v1h-2zM175 414h1v1h-1zM197 414h1v1h-1zM434 414h1v1h-1zM413 414h1v2h-1zM635 414h1v2h-1zM149 415h2v1h-2zM174 415h1v1h-1zM198 415h1v1h-1zM226 415h1v1h-1zM60 415h1v2h-1zM433 415h1v2h-1zM449 415h1v2h-1zM633 415h1v3h-1zM151 416h1v1h-1zM173 416h1v1h-1zM199 416h1v1h-1zM414 416h1v1h-1zM636 416h1v1h-1zM225 416h1v2h-1zM841 416h1v4h-1zM536 416h1v6h-1zM59 417h1v1h-1zM200 417h1v1h-1zM432 417h1v1h-1zM152 417h1v2h-1zM172 417h1v2h-1zM415 417h1v2h-1zM637 417h1v2h-1zM450 417h1v3h-1zM58 418h1v1h-1zM201 418h1v1h-1zM224 418h1v1h-1zM431 418h1v2h-1zM589 418h1v4h-1zM632 418h1v4h-1zM57 419h1v1h-1zM153 419h1v1h-1zM171 419h1v1h-1zM202 419h1v1h-1zM416 419h1v1h-1zM223 419h1v2h-1zM638 419h1v2h-1zM56 420h1v1h-1zM154 420h1v1h-1zM169 420h2v1h-2zM430 420h1v1h-1zM203 420h1v2h-1zM417 420h1v2h-1zM451 420h1v2h-1zM840 420h1v4h-1zM55 421h1v1h-1zM155 421h1v1h-1zM167 421h2v1h-2zM222 421h1v1h-1zM429 421h1v1h-1zM639 421h1v4h-1zM54 422h1v1h-1zM156 422h2v1h-2zM165 422h2v1h-2zM204 422h1v1h-1zM221 422h1v1h-1zM418 422h1v1h-1zM428 422h1v1h-1zM452 422h1v3h-1zM631 422h1v3h-1zM535 422h1v6h-1zM590 422h1v6h-1zM158 423h2v1h-2zM163 423h2v1h-2zM419 423h1v1h-1zM427 423h1v1h-1zM53 423h1v2h-1zM205 423h1v2h-1zM220 423h1v2h-1zM160 424h3v1h-3zM420 424h2v1h-2zM424 424h3v1h-3zM839 424h1v4h-1zM52 425h1v1h-1zM206 425h2v1h-2zM219 425h1v1h-1zM422 425h2v1h-2zM453 425h1v2h-1zM630 425h1v4h-1zM640 425h1v4h-1zM208 426h11v1h-11zM51 426h1v2h-1zM454 427h1v2h-1zM50 428h1v1h-1zM838 428h1v4h-1zM534 428h1v5h-1zM591 428h1v7h-1zM49 429h1v1h-1zM455 429h1v2h-1zM629 429h1v4h-1zM641 429h1v4h-1zM48 430h1v2h-1zM456 431h1v2h-1zM47 432h1v1h-1zM837 432h1v4h-1zM46 433h1v1h-1zM457 433h1v2h-1zM628 433h1v4h-1zM533 433h1v5h-1zM642 433h1v5h-1zM45 434h1v1h-1zM44 435h1v1h-1zM458 435h1v2h-1zM592 435h1v7h-1zM43 436h1v1h-1zM836 436h1v4h-1zM42 437h1v1h-1zM459 437h1v2h-1zM627 437h1v4h-1zM40 438h2v1h-2zM532 438h1v5h-1zM643 438h1v6h-1zM30 439h6v1h-6zM39 439h1v1h-1zM460 439h1v2h-1zM29 440h1v1h-1zM36 440h3v1h-3zM835 440h1v4h-1zM28 441h1v1h-1zM461 441h1v2h-1zM626 441h1v5h-1zM27 442h1v1h-1zM593 442h1v7h-1zM26 443h1v1h-1zM462 443h1v2h-1zM531 443h1v5h-1zM25 444h1v2h-1zM834 444h1v3h-1zM644 444h1v6h-1zM463 445h1v2h-1zM24 446h1v1h-1zM625 446h1v7h-1zM2 447h1v1h-1zM23 447h1v2h-1zM464 447h1v2h-1zM833 447h1v3h-1zM3 448h1v2h-1zM530 448h1v4h-1zM22 449h1v1h-1zM465 449h1v2h-1zM594 449h1v7h-1zM4 450h1v1h-1zM20 450h2v1h-2zM832 450h1v4h-1zM645 450h1v6h-1zM19 451h1v1h-1zM466 451h1v1h-1zM5 451h1v2h-1zM18 452h1v1h-1zM467 452h1v2h-1zM529 452h1v3h-1zM6 453h1v1h-1zM16 453h2v1h-2zM624 453h1v6h-1zM7 454h1v1h-1zM15 454h1v1h-1zM468 454h1v1h-1zM750 454h1v1h-1zM682 454h1v2h-1zM831 454h1v3h-1zM8 455h2v1h-2zM12 455h3v1h-3zM683 455h2v1h-2zM751 455h2v1h-2zM814 455h5v1h-5zM469 455h1v2h-1zM749 455h1v2h-1zM528 455h1v4h-1zM10 456h2v1h-2zM685 456h2v1h-2zM753 456h1v1h-1zM819 456h1v1h-1zM681 456h1v2h-1zM754 456h1v2h-1zM813 456h1v2h-1zM646 456h1v5h-1zM595 456h1v7h-1zM470 457h1v1h-1zM748 457h1v1h-1zM820 457h1v1h-1zM687 457h1v2h-1zM830 457h1v2h-1zM812 458h1v1h-1zM821 458h1v1h-1zM828 458h2v1h-2zM471 458h1v2h-1zM680 458h1v2h-1zM747 458h1v2h-1zM755 458h1v2h-1zM822 459h6v1h-6zM688 459h1v2h-1zM811 459h1v2h-1zM527 459h1v3h-1zM623 459h1v7h-1zM472 460h1v2h-1zM679 460h1v2h-1zM746 460h1v2h-1zM756 460h1v2h-1zM689 461h1v2h-1zM810 461h1v2h-1zM647 461h1v4h-1zM676 462h3v1h-3zM473 462h1v2h-1zM757 462h1v2h-1zM526 462h1v3h-1zM745 462h1v3h-1zM675 463h1v1h-1zM674 463h1v2h-1zM690 463h1v2h-1zM809 463h1v2h-1zM596 463h1v8h-1zM474 464h1v2h-1zM758 464h1v3h-1zM691 465h1v1h-1zM525 465h1v2h-1zM673 465h1v2h-1zM744 465h1v2h-1zM808 465h1v3h-1zM648 465h1v4h-1zM692 466h1v1h-1zM475 466h1v2h-1zM622 466h1v7h-1zM693 467h1v1h-1zM524 467h1v2h-1zM672 467h1v2h-1zM743 467h1v3h-1zM759 467h1v4h-1zM694 468h1v1h-1zM476 468h1v2h-1zM807 468h1v2h-1zM695 469h2v1h-2zM523 469h1v2h-1zM671 469h1v2h-1zM649 469h1v4h-1zM697 470h2v1h-2zM477 470h1v2h-1zM742 470h1v3h-1zM806 470h1v3h-1zM699 471h1v2h-1zM522 471h1v3h-1zM670 471h1v3h-1zM760 471h1v3h-1zM597 471h1v7h-1zM478 472h1v2h-1zM700 473h1v2h-1zM650 473h1v3h-1zM741 473h1v4h-1zM805 473h1v4h-1zM621 473h1v8h-1zM479 474h1v2h-1zM521 474h1v2h-1zM669 474h1v2h-1zM761 474h1v4h-1zM701 475h1v2h-1zM480 476h1v1h-1zM520 476h1v3h-1zM668 476h1v3h-1zM651 476h1v4h-1zM702 477h1v1h-1zM481 477h1v2h-1zM804 477h1v3h-1zM740 477h1v4h-1zM703 478h1v1h-1zM762 478h1v3h-1zM598 478h1v8h-1zM482 479h1v1h-1zM704 479h1v1h-1zM519 479h1v2h-1zM667 479h1v2h-1zM705 480h1v1h-1zM483 480h1v2h-1zM652 480h1v4h-1zM803 480h1v4h-1zM706 481h2v1h-2zM518 481h1v2h-1zM763 481h1v2h-1zM666 481h1v3h-1zM739 481h1v4h-1zM620 481h1v8h-1zM708 482h3v1h-3zM484 482h1v2h-1zM517 483h1v1h-1zM711 483h1v1h-1zM764 483h1v2h-1zM485 484h1v2h-1zM516 484h1v2h-1zM712 484h1v2h-1zM802 484h1v2h-1zM665 484h1v3h-1zM653 484h1v4h-1zM765 485h1v2h-1zM738 485h1v3h-1zM486 486h1v1h-1zM515 486h1v1h-1zM713 486h1v1h-1zM801 486h1v2h-1zM599 486h1v9h-1zM487 487h1v1h-1zM514 487h1v1h-1zM714 487h1v1h-1zM664 487h1v2h-1zM766 487h1v2h-1zM513 488h1v1h-1zM488 488h1v2h-1zM654 488h1v2h-1zM715 488h1v2h-1zM737 488h1v2h-1zM800 488h1v2h-1zM767 489h1v1h-1zM780 489h3v1h-3zM512 489h1v2h-1zM663 489h1v3h-1zM619 489h1v8h-1zM489 490h1v1h-1zM655 490h1v1h-1zM716 490h1v1h-1zM778 490h2v1h-2zM783 490h1v1h-1zM768 490h1v2h-1zM799 490h1v2h-1zM736 490h1v3h-1zM490 491h1v1h-1zM511 491h1v1h-1zM656 491h1v1h-1zM777 491h1v1h-1zM784 491h1v1h-1zM717 491h1v2h-1zM491 492h1v1h-1zM510 492h1v1h-1zM657 492h1v1h-1zM769 492h1v1h-1zM785 492h1v1h-1zM798 492h1v1h-1zM662 492h1v2h-1zM776 492h1v2h-1zM492 493h1v1h-1zM508 493h2v1h-2zM658 493h4v1h-4zM718 493h1v1h-1zM770 493h1v1h-1zM786 493h1v1h-1zM796 493h2v1h-2zM735 493h1v2h-1zM493 494h1v1h-1zM507 494h1v1h-1zM719 494h1v1h-1zM771 494h2v1h-2zM775 494h1v1h-1zM787 494h2v1h-2zM795 494h1v1h-1zM494 495h1v1h-1zM505 495h2v1h-2zM773 495h2v1h-2zM789 495h6v1h-6zM720 495h1v2h-1zM734 495h1v2h-1zM600 495h1v9h-1zM495 496h1v1h-1zM503 496h2v1h-2zM496 497h2v1h-2zM500 497h3v1h-3zM721 497h1v1h-1zM732 497h2v1h-2zM618 497h1v7h-1zM498 498h2v1h-2zM722 498h1v1h-1zM731 498h1v1h-1zM723 499h2v1h-2zM728 499h3v1h-3zM725 500h3v1h-3zM617 504h1v6h-1zM601 504h1v9h-1zM616 510h1v6h-1zM602 513h1v6h-1zM615 516h1v6h-1zM603 519h1v4h-1zM614 522h1v5h-1zM604 523h1v4h-1zM613 527h1v3h-1zM605 527h1v4h-1zM612 530h1v2h-1zM606 531h1v3h-1zM611 532h1v3h-1zM607 534h1v1h-1zM608 535h2v1h-2zM610 535h1v2h-1z"/>
<path fill="#ff0000" d="M1162 107h2v1h-2zM1160 108h2v1h-2zM1164 108h3v1h-3zM1159 109h1v1h-1zM1167 109h1v1h-1zM1196 109h8v1h-8zM1158 110h1v1h-1zM1168 110h2v1h-2zM1193 110h3v1h-3zM1204 110h4v1h-4zM1156 111h2v1h-2zM1170 111h1v1h-1zM1191 111h2v1h-2zM1208 111h3v1h-3zM1155 112h1v1h-1zM1171 112h2v1h-2zM1180 112h11v1h-11zM1211 112h1v1h-1zM1153 113h2v1h-2zM1173 113h7v1h-7zM1212 113h2v1h-2zM1151 114h2v1h-2zM1214 114h1v1h-1zM1150 115h1v1h-1zM1215 115h1v1h-1zM1148 116h2v1h-2zM1216 116h1v1h-1zM1147 117h1v1h-1zM1217 117h1v1h-1zM1220 117h7v1h-7zM1121 118h2v1h-2zM1145 118h2v1h-2zM1218 118h2v1h-2zM1227 118h2v1h-2zM1119 119h2v1h-2zM1123 119h1v1h-1zM1143 119h2v1h-2zM1229 119h2v1h-2zM1118 120h1v1h-1zM1124 120h2v1h-2zM1140 120h3v1h-3zM1231 120h1v1h-1zM1117 121h1v1h-1zM1126 121h1v1h-1zM1136 121h4v1h-4zM1232 121h1v1h-1zM1116 122h1v1h-1zM1127 122h2v1h-2zM1132 122h4v1h-4zM1233 122h1v1h-1zM1115 123h1v1h-1zM1129 123h3v1h-3zM1234 123h1v1h-1zM1114 124h1v1h-1zM1235 124h1v1h-1zM1113 125h1v1h-1zM1236 125h1v1h-1zM1112 126h1v1h-1zM1237 126h1v1h-1zM1111 127h1v1h-1zM1238 127h1v1h-1zM1108 128h3v1h-3zM1239 128h1v1h-1zM1104 129h4v1h-4zM1240 129h2v1h-2zM1101 130h3v1h-3zM1242 130h1v1h-1zM1099 131h2v1h-2zM1243 131h1v1h-1zM1097 132h2v1h-2zM1244 132h1v2h-1zM1095 133h2v1h-2zM1093 134h2v1h-2zM1245 134h1v1h-1zM1091 135h2v1h-2zM1246 135h1v1h-1zM1090 136h1v1h-1zM1247 136h1v2h-1zM1088 137h2v1h-2zM1087 138h1v1h-1zM1248 138h1v2h-1zM1086 139h1v1h-1zM1084 140h2v1h-2zM1249 140h1v2h-1zM1083 141h1v1h-1zM1082 142h1v1h-1zM1250 142h1v1h-1zM1081 143h1v1h-1zM1251 143h1v1h-1zM1080 144h1v2h-1zM1252 144h1v2h-1zM1079 146h1v1h-1zM1253 146h1v1h-1zM1078 147h1v1h-1zM1254 147h1v1h-1zM1077 148h1v1h-1zM1255 148h1v1h-1zM1076 149h1v1h-1zM1256 149h2v1h-2zM1075 150h1v1h-1zM1258 150h1v1h-1zM1259 151h1v1h-1zM1074 151h1v2h-1zM1260 152h1v1h-1zM1261 153h1v1h-1zM1073 153h1v2h-1zM1262 154h1v1h-1zM1263 155h1v1h-1zM1072 155h1v3h-1zM1264 156h2v1h-2zM1071 158h1v2h-1zM1070 160h1v3h-1zM1069 163h1v3h-1zM1068 166h1v3h-1zM1067 169h1v3h-1zM1066 172h1v3h-1zM1065 175h1v2h-1zM1064 177h1v2h-1zM1063 179h1v2h-1zM1062 181h1v3h-1zM1061 184h1v2h-1zM1060 186h1v2h-1zM1059 188h1v2h-1zM1058 190h1v2h-1zM1057 192h1v2h-1zM1056 194h1v3h-1zM1055 197h1v2h-1zM1054 199h1v3h-1zM1053 202h1v3h-1zM1052 205h1v2h-1zM1051 207h1v3h-1zM1050 210h1v3h-1zM1049 213h1v2h-1zM1048 215h1v3h-1zM1047 218h1v2h-1zM1046 220h1v3h-1zM1045 223h1v3h-1zM1044 226h1v2h-1zM1043 228h1v3h-1zM1042 231h1v3h-1zM1041 234h1v3h-1zM1040 237h1v3h-1zM1039 240h1v3h-1zM1038 243h1v3h-1zM1037 246h1v3h-1zM1036 249h1v2h-1zM1035 251h1v3h-1zM1034 254h1v3h-1zM1033 257h1v2h-1zM1032 259h1v2h-1zM1031 261h1v2h-1zM1030 263h1v3h-1zM1029 266h1v2h-1zM1028 268h1v2h-1zM1027 270h1v2h-1zM1026 272h1v3h-1zM1025 275h1v2h-1zM1024 277h1v2h-1zM1023 279h1v2h-1zM1022 281h1v2h-1zM1021 283h1v2h-1zM1020 285h1v2h-1zM1019 287h1v2h-1zM1018 289h1v1h-1zM1017 290h1v2h-1zM1016 292h1v2h-1zM1015 294h1v2h-1zM1014 296h1v1h-1zM1013 297h1v1h-1zM1012 298h1v2h-1zM1011 300h1v1h-1zM1010 301h1v1h-1zM1009 302h1v2h-1zM1008 304h1v1h-1zM1007 305h1v2h-1zM1006 307h1v1h-1zM1005 308h1v1h-1zM1004 309h1v1h-1zM1003 310h1v1h-1zM1002 311h1v1h-1zM1001 312h1v2h-1zM1000 314h1v1h-1zM999 315h1v2h-1zM998 317h1v1h-1zM997 318h1v1h-1zM996 319h1v1h-1zM995 320h1v1h-1zM994 321h1v1h-1zM993 322h1v1h-1zM992 323h1v2h-1zM904 324h4v1h-4zM902 325h2v1h-2zM908 325h3v1h-3zM991 325h1v1h-1zM900 326h2v1h-2zM911 326h1v1h-1zM990 326h1v1h-1zM899 327h1v1h-1zM912 327h1v1h-1zM989 327h1v1h-1zM898 328h1v1h-1zM913 328h1v1h-1zM988 328h1v1h-1zM897 329h1v1h-1zM914 329h2v1h-2zM920 329h4v1h-4zM987 329h1v1h-1zM896 330h1v1h-1zM916 330h4v1h-4zM924 330h3v1h-3zM985 330h2v1h-2zM895 331h1v1h-1zM927 331h1v1h-1zM983 331h2v1h-2zM894 332h1v1h-1zM928 332h2v1h-2zM981 332h2v1h-2zM893 333h1v1h-1zM930 333h1v1h-1zM973 333h3v1h-3zM979 333h2v1h-2zM892 334h1v1h-1zM931 334h1v1h-1zM971 334h2v1h-2zM976 334h3v1h-3zM891 335h1v1h-1zM932 335h1v1h-1zM970 335h1v1h-1zM890 336h1v1h-1zM933 336h1v1h-1zM968 336h2v1h-2zM889 337h1v1h-1zM934 337h1v1h-1zM967 337h1v1h-1zM888 338h1v1h-1zM935 338h1v1h-1zM966 338h1v1h-1zM887 339h1v1h-1zM936 339h1v1h-1zM964 339h2v1h-2zM937 340h1v1h-1zM963 340h1v1h-1zM886 340h1v2h-1zM938 341h2v1h-2zM944 341h4v1h-4zM956 341h7v1h-7zM940 342h4v1h-4zM948 342h8v1h-8zM885 342h1v2h-1zM884 344h1v2h-1zM883 346h1v2h-1zM882 348h1v2h-1zM881 350h1v3h-1zM880 353h1v2h-1zM879 355h1v3h-1zM582 358h1v1h-1zM878 358h1v3h-1zM581 359h1v1h-1zM583 359h2v1h-2zM580 360h1v1h-1zM585 360h2v1h-2zM579 361h1v1h-1zM587 361h1v2h-1zM877 361h1v3h-1zM577 362h2v1h-2zM575 363h2v1h-2zM588 363h1v2h-1zM574 364h1v1h-1zM876 364h1v3h-1zM573 365h1v2h-1zM589 365h1v2h-1zM572 367h1v1h-1zM590 367h1v3h-1zM875 367h1v3h-1zM360 368h4v1h-4zM571 368h1v2h-1zM352 369h8v1h-8zM364 369h3v1h-3zM345 370h7v1h-7zM367 370h2v1h-2zM570 370h1v1h-1zM591 370h1v3h-1zM874 370h1v3h-1zM343 371h2v1h-2zM369 371h3v1h-3zM569 371h1v1h-1zM342 372h1v1h-1zM372 372h3v1h-3zM568 372h1v2h-1zM340 373h2v1h-2zM375 373h2v1h-2zM873 373h1v3h-1zM592 373h1v4h-1zM339 374h1v1h-1zM377 374h2v1h-2zM567 374h1v1h-1zM337 375h2v1h-2zM379 375h1v1h-1zM566 375h1v2h-1zM335 376h2v1h-2zM380 376h1v1h-1zM872 376h1v3h-1zM332 377h3v1h-3zM381 377h1v1h-1zM565 377h1v3h-1zM593 377h1v3h-1zM328 378h4v1h-4zM382 378h1v1h-1zM325 379h3v1h-3zM383 379h1v1h-1zM871 379h1v3h-1zM323 380h2v1h-2zM384 380h2v1h-2zM564 380h1v3h-1zM594 380h1v3h-1zM322 381h1v1h-1zM386 381h1v1h-1zM120 382h7v1h-7zM320 382h2v1h-2zM387 382h2v1h-2zM870 382h1v3h-1zM117 383h3v1h-3zM127 383h1v1h-1zM319 383h1v1h-1zM389 383h2v1h-2zM563 383h1v3h-1zM595 383h1v3h-1zM115 384h2v1h-2zM128 384h2v1h-2zM317 384h2v1h-2zM391 384h2v1h-2zM114 385h1v1h-1zM130 385h2v1h-2zM315 385h2v1h-2zM393 385h2v1h-2zM869 385h1v3h-1zM113 386h1v1h-1zM132 386h3v1h-3zM312 386h3v1h-3zM395 386h1v1h-1zM562 386h1v3h-1zM596 386h1v3h-1zM112 387h1v1h-1zM135 387h1v1h-1zM310 387h2v1h-2zM396 387h2v1h-2zM111 388h1v1h-1zM136 388h2v1h-2zM308 388h2v1h-2zM398 388h1v1h-1zM868 388h1v2h-1zM109 389h2v1h-2zM138 389h1v1h-1zM307 389h1v1h-1zM399 389h2v1h-2zM561 389h1v3h-1zM597 389h1v3h-1zM107 390h2v1h-2zM139 390h2v1h-2zM296 390h11v1h-11zM401 390h2v1h-2zM867 390h1v3h-1zM105 391h2v1h-2zM141 391h2v1h-2zM280 391h8v1h-8zM292 391h4v1h-4zM403 391h1v1h-1zM103 392h2v1h-2zM143 392h2v1h-2zM277 392h3v1h-3zM288 392h4v1h-4zM404 392h2v1h-2zM560 392h1v3h-1zM598 392h1v3h-1zM101 393h2v1h-2zM145 393h3v1h-3zM275 393h2v1h-2zM406 393h1v1h-1zM866 393h1v3h-1zM99 394h2v1h-2zM148 394h3v1h-3zM274 394h1v1h-1zM407 394h2v1h-2zM96 395h3v1h-3zM151 395h2v1h-2zM272 395h2v1h-2zM409 395h2v1h-2zM559 395h1v3h-1zM599 395h1v4h-1zM94 396h2v1h-2zM153 396h2v1h-2zM271 396h1v1h-1zM411 396h2v1h-2zM865 396h1v2h-1zM92 397h2v1h-2zM155 397h1v1h-1zM270 397h1v1h-1zM413 397h2v1h-2zM91 398h1v1h-1zM156 398h2v1h-2zM268 398h2v1h-2zM415 398h1v1h-1zM864 398h1v2h-1zM558 398h1v4h-1zM90 399h1v1h-1zM158 399h1v1h-1zM267 399h1v1h-1zM416 399h1v1h-1zM600 399h1v3h-1zM89 400h1v1h-1zM159 400h1v1h-1zM266 400h1v1h-1zM417 400h1v1h-1zM863 400h1v2h-1zM88 401h1v1h-1zM160 401h2v1h-2zM264 401h2v1h-2zM418 401h1v1h-1zM87 402h1v1h-1zM162 402h1v1h-1zM263 402h1v1h-1zM419 402h1v1h-1zM862 402h1v3h-1zM557 402h1v4h-1zM601 402h1v4h-1zM86 403h1v1h-1zM163 403h2v1h-2zM262 403h1v1h-1zM420 403h2v1h-2zM85 404h1v1h-1zM165 404h2v1h-2zM261 404h1v1h-1zM422 404h1v1h-1zM84 405h1v1h-1zM167 405h2v1h-2zM260 405h1v1h-1zM423 405h2v1h-2zM861 405h1v2h-1zM83 406h1v1h-1zM169 406h2v1h-2zM259 406h1v1h-1zM425 406h2v1h-2zM602 406h1v3h-1zM556 406h1v4h-1zM82 407h1v1h-1zM171 407h1v1h-1zM258 407h1v1h-1zM427 407h2v1h-2zM860 407h1v2h-1zM81 408h1v1h-1zM172 408h2v1h-2zM256 408h2v1h-2zM429 408h2v1h-2zM80 409h1v1h-1zM174 409h1v1h-1zM255 409h1v1h-1zM431 409h2v1h-2zM859 409h1v2h-1zM603 409h1v4h-1zM79 410h1v1h-1zM175 410h2v1h-2zM253 410h2v1h-2zM433 410h3v1h-3zM555 410h1v4h-1zM78 411h1v1h-1zM177 411h2v1h-2zM251 411h2v1h-2zM436 411h4v1h-4zM858 411h1v2h-1zM77 412h1v1h-1zM179 412h2v1h-2zM249 412h2v1h-2zM440 412h3v1h-3zM76 413h1v1h-1zM181 413h7v1h-7zM247 413h2v1h-2zM443 413h2v1h-2zM857 413h1v3h-1zM604 413h1v4h-1zM75 414h1v1h-1zM188 414h4v1h-4zM228 414h12v1h-12zM244 414h3v1h-3zM445 414h2v1h-2zM554 414h1v3h-1zM74 415h1v1h-1zM192 415h11v1h-11zM220 415h8v1h-8zM240 415h4v1h-4zM447 415h1v1h-1zM73 416h1v1h-1zM203 416h2v1h-2zM212 416h8v1h-8zM448 416h1v1h-1zM856 416h1v2h-1zM205 417h7v1h-7zM449 417h1v1h-1zM72 417h1v2h-1zM553 417h1v3h-1zM605 417h1v4h-1zM450 418h1v1h-1zM855 418h1v3h-1zM71 419h1v1h-1zM451 419h1v1h-1zM70 420h1v1h-1zM452 420h2v1h-2zM552 420h1v4h-1zM69 421h1v1h-1zM454 421h1v1h-1zM606 421h1v3h-1zM854 421h1v3h-1zM455 422h2v1h-2zM68 422h1v2h-1zM457 423h2v1h-2zM67 424h1v1h-1zM459 424h1v1h-1zM853 424h1v2h-1zM551 424h1v3h-1zM607 424h1v4h-1zM66 425h1v1h-1zM460 425h2v1h-2zM462 426h1v1h-1zM65 426h1v2h-1zM852 426h1v2h-1zM463 427h1v1h-1zM550 427h1v3h-1zM2 428h1v1h-1zM64 428h1v1h-1zM464 428h2v1h-2zM851 428h1v2h-1zM608 428h1v3h-1zM3 429h1v1h-1zM466 429h1v1h-1zM63 429h1v2h-1zM4 430h1v1h-1zM467 430h1v1h-1zM850 430h1v3h-1zM549 430h1v4h-1zM5 431h1v1h-1zM62 431h1v1h-1zM468 431h2v1h-2zM609 431h1v4h-1zM6 432h1v1h-1zM61 432h1v1h-1zM470 432h1v1h-1zM7 433h1v1h-1zM60 433h1v1h-1zM471 433h1v1h-1zM849 433h1v2h-1zM8 434h1v1h-1zM59 434h1v1h-1zM472 434h1v1h-1zM548 434h1v3h-1zM9 435h1v1h-1zM58 435h1v1h-1zM473 435h1v1h-1zM610 435h1v3h-1zM848 435h1v3h-1zM10 436h2v1h-2zM56 436h2v1h-2zM474 436h1v1h-1zM12 437h3v1h-3zM55 437h1v1h-1zM475 437h1v1h-1zM547 437h1v4h-1zM15 438h2v1h-2zM53 438h2v1h-2zM476 438h1v1h-1zM847 438h1v2h-1zM611 438h1v4h-1zM17 439h2v1h-2zM51 439h2v1h-2zM477 439h1v1h-1zM19 440h2v1h-2zM50 440h1v1h-1zM478 440h1v1h-1zM846 440h1v3h-1zM21 441h2v1h-2zM48 441h2v1h-2zM479 441h1v2h-1zM546 441h1v3h-1zM23 442h2v1h-2zM47 442h1v1h-1zM612 442h1v4h-1zM25 443h3v1h-3zM45 443h2v1h-2zM480 443h1v1h-1zM845 443h1v2h-1zM28 444h4v1h-4zM43 444h2v1h-2zM481 444h1v2h-1zM545 444h1v2h-1zM32 445h4v1h-4zM40 445h3v1h-3zM844 445h1v2h-1zM36 446h4v1h-4zM482 446h1v1h-1zM544 446h1v3h-1zM613 446h1v4h-1zM483 447h1v2h-1zM843 447h1v2h-1zM484 449h1v1h-1zM543 449h1v2h-1zM842 449h1v2h-1zM485 450h1v2h-1zM614 450h1v3h-1zM841 451h1v2h-1zM542 451h1v3h-1zM486 452h1v1h-1zM487 453h1v2h-1zM615 453h1v2h-1zM840 453h1v2h-1zM541 454h1v2h-1zM670 455h1v1h-1zM488 455h1v2h-1zM616 455h1v2h-1zM839 455h1v2h-1zM668 456h2v1h-2zM671 456h2v1h-2zM540 456h1v2h-1zM667 457h1v1h-1zM673 457h2v1h-2zM838 457h1v1h-1zM489 457h1v2h-1zM617 457h1v2h-1zM666 458h1v1h-1zM675 458h1v1h-1zM539 458h1v2h-1zM837 458h1v2h-1zM665 459h1v1h-1zM490 459h1v2h-1zM618 459h1v2h-1zM676 459h1v2h-1zM664 460h1v1h-1zM538 460h1v2h-1zM836 460h1v2h-1zM663 461h1v1h-1zM677 461h1v1h-1zM491 461h1v2h-1zM619 461h1v2h-1zM661 462h2v1h-2zM678 462h1v1h-1zM537 462h1v2h-1zM835 462h1v2h-1zM620 463h1v1h-1zM659 463h2v1h-2zM679 463h1v1h-1zM492 463h1v2h-1zM658 464h1v1h-1zM680 464h1v1h-1zM834 464h1v1h-1zM536 464h1v2h-1zM621 464h1v2h-1zM624 465h4v1h-4zM681 465h1v1h-1zM833 465h1v1h-1zM493 465h1v2h-1zM657 465h1v2h-1zM622 466h2v1h-2zM628 466h3v1h-3zM682 466h1v1h-1zM535 466h1v2h-1zM832 466h1v2h-1zM494 467h1v1h-1zM631 467h2v1h-2zM683 467h1v1h-1zM656 467h1v2h-1zM633 468h2v1h-2zM684 468h2v1h-2zM831 468h1v1h-1zM495 468h1v2h-1zM534 468h1v3h-1zM635 469h1v1h-1zM686 469h1v1h-1zM830 469h1v1h-1zM655 469h1v2h-1zM496 470h1v1h-1zM687 470h1v1h-1zM829 470h1v1h-1zM636 470h1v2h-1zM654 471h1v1h-1zM688 471h1v1h-1zM704 471h7v1h-7zM828 471h1v1h-1zM497 471h1v2h-1zM533 471h1v2h-1zM637 472h1v1h-1zM652 472h2v1h-2zM689 472h1v1h-1zM701 472h3v1h-3zM711 472h2v1h-2zM827 472h1v1h-1zM498 473h1v1h-1zM638 473h1v1h-1zM651 473h1v1h-1zM690 473h1v1h-1zM699 473h2v1h-2zM713 473h3v1h-3zM826 473h1v1h-1zM532 473h1v2h-1zM499 474h1v1h-1zM639 474h1v1h-1zM650 474h1v1h-1zM691 474h2v1h-2zM696 474h3v1h-3zM716 474h3v1h-3zM825 474h1v1h-1zM500 475h1v1h-1zM640 475h2v1h-2zM648 475h2v1h-2zM693 475h3v1h-3zM719 475h1v1h-1zM824 475h1v1h-1zM531 475h1v2h-1zM501 476h1v1h-1zM642 476h2v1h-2zM647 476h1v1h-1zM720 476h1v1h-1zM823 476h1v1h-1zM502 477h1v1h-1zM530 477h1v1h-1zM644 477h3v1h-3zM721 477h1v1h-1zM820 477h3v1h-3zM503 478h1v1h-1zM529 478h1v1h-1zM722 478h1v1h-1zM817 478h3v1h-3zM504 479h2v1h-2zM723 479h1v1h-1zM748 479h4v1h-4zM776 479h8v1h-8zM815 479h2v1h-2zM528 479h1v2h-1zM506 480h1v1h-1zM724 480h2v1h-2zM746 480h2v1h-2zM752 480h3v1h-3zM772 480h4v1h-4zM784 480h4v1h-4zM814 480h1v1h-1zM507 481h1v1h-1zM527 481h1v1h-1zM726 481h1v1h-1zM744 481h2v1h-2zM755 481h2v1h-2zM768 481h4v1h-4zM788 481h3v1h-3zM812 481h2v1h-2zM508 482h2v1h-2zM525 482h2v1h-2zM727 482h1v1h-1zM743 482h1v1h-1zM757 482h3v1h-3zM764 482h4v1h-4zM791 482h1v1h-1zM811 482h1v1h-1zM510 483h1v1h-1zM523 483h2v1h-2zM728 483h2v1h-2zM742 483h1v1h-1zM760 483h4v1h-4zM792 483h2v1h-2zM810 483h1v1h-1zM511 484h2v1h-2zM521 484h2v1h-2zM730 484h2v1h-2zM740 484h2v1h-2zM794 484h1v1h-1zM808 484h2v1h-2zM513 485h3v1h-3zM519 485h2v1h-2zM732 485h4v1h-4zM739 485h1v1h-1zM795 485h2v1h-2zM807 485h1v1h-1zM516 486h3v1h-3zM736 486h3v1h-3zM797 486h3v1h-3zM804 486h3v1h-3zM800 487h4v1h-4z"/>
<path fill="#0000cd" d="M1220 112h7v1h-7zM1208 113h12v1h-12zM1227 113h2v1h-2zM1205 114h3v1h-3zM1229 114h2v1h-2zM1203 115h2v1h-2zM1231 115h1v1h-1zM1180 116h8v1h-8zM1196 116h7v1h-7zM1232 116h2v1h-2zM1176 117h4v1h-4zM1188 117h8v1h-8zM1234 117h1v1h-1zM1168 118h8v1h-8zM1235 118h1v1h-1zM1162 119h6v1h-6zM1236 119h2v1h-2zM1160 120h2v1h-2zM1238 120h1v1h-1zM1159 121h1v1h-1zM1239 121h2v1h-2zM1158 122h1v1h-1zM1241 122h2v1h-2zM1156 123h2v1h-2zM1243 123h2v1h-2zM1155 124h1v1h-1zM1245 124h2v1h-2zM1154 125h1v1h-1zM1247 125h2v1h-2zM1152 126h2v1h-2zM1249 126h2v1h-2zM1151 127h1v1h-1zM1251 127h2v1h-2zM1150 128h1v1h-1zM1253 128h3v1h-3zM1148 129h2v1h-2zM1256 129h4v1h-4zM1147 130h1v1h-1zM1260 130h4v1h-4zM1146 131h1v1h-1zM1264 131h2v1h-2zM1144 132h2v1h-2zM1143 133h1v1h-1zM1141 134h2v1h-2zM1139 135h2v1h-2zM1138 136h1v1h-1zM1137 137h1v1h-1zM1136 138h1v1h-1zM1135 139h1v1h-1zM1134 140h1v1h-1zM1133 141h1v1h-1zM1132 142h1v2h-1zM1131 144h1v1h-1zM1130 145h1v1h-1zM1129 146h1v1h-1zM1128 147h1v1h-1zM1127 148h1v1h-1zM1126 149h1v1h-1zM1125 150h1v1h-1zM1124 151h1v1h-1zM1123 152h1v1h-1zM1122 153h1v1h-1zM1121 154h1v2h-1zM1120 156h1v1h-1zM1119 157h1v2h-1zM1118 159h1v1h-1zM1117 160h1v2h-1zM1116 162h1v1h-1zM1115 163h1v2h-1zM1114 165h1v1h-1zM1113 166h1v2h-1zM1112 168h1v1h-1zM1111 169h1v2h-1zM1110 171h1v1h-1zM1109 172h1v2h-1zM1108 174h1v2h-1zM1107 176h1v2h-1zM1106 178h1v1h-1zM1105 179h1v2h-1zM1104 181h1v2h-1zM1103 183h1v2h-1zM1102 185h1v1h-1zM1101 186h1v2h-1zM1100 188h1v1h-1zM1099 189h1v2h-1zM1098 191h1v1h-1zM1097 192h1v2h-1zM1096 194h1v1h-1zM1095 195h1v2h-1zM1094 197h1v1h-1zM1093 198h1v2h-1zM1092 200h1v1h-1zM1091 201h1v2h-1zM1090 203h1v1h-1zM1089 204h1v2h-1zM1088 206h1v1h-1zM1087 207h1v2h-1zM1086 209h1v1h-1zM1085 210h1v2h-1zM1084 212h1v1h-1zM1083 213h1v2h-1zM1082 215h1v1h-1zM1081 216h1v2h-1zM1080 218h1v2h-1zM1079 220h1v2h-1zM1078 222h1v1h-1zM1077 223h1v2h-1zM1076 225h1v1h-1zM1075 226h1v2h-1zM1074 228h1v2h-1zM1073 230h1v2h-1zM1072 232h1v2h-1zM1071 234h1v2h-1zM1070 236h1v2h-1zM1069 238h1v2h-1zM1068 240h1v2h-1zM1067 242h1v2h-1zM1066 244h1v1h-1zM1065 245h1v2h-1zM1064 247h1v2h-1zM1063 249h1v2h-1zM1062 251h1v1h-1zM1061 252h1v2h-1zM1060 254h1v1h-1zM1059 255h1v2h-1zM1058 257h1v1h-1zM1057 258h1v2h-1zM1056 260h1v2h-1zM1055 262h1v2h-1zM1054 264h1v2h-1zM1053 266h1v2h-1zM1052 268h1v2h-1zM1051 270h1v2h-1zM1050 272h1v1h-1zM1049 273h1v2h-1zM1048 275h1v2h-1zM1047 277h1v2h-1zM1046 279h1v1h-1zM1045 280h1v2h-1zM1044 282h1v1h-1zM1043 283h1v2h-1zM1042 285h1v1h-1zM1041 286h1v1h-1zM1040 287h1v2h-1zM1039 289h1v1h-1zM1038 290h1v1h-1zM1037 291h1v2h-1zM1036 293h1v1h-1zM1035 294h1v2h-1zM1034 296h1v1h-1zM1033 297h1v2h-1zM1032 299h1v1h-1zM1031 300h1v2h-1zM1030 302h1v1h-1zM1029 303h1v1h-1zM1028 304h1v2h-1zM1027 306h1v1h-1zM1026 307h1v1h-1zM1025 308h1v2h-1zM1024 310h1v1h-1zM1023 311h1v2h-1zM1022 313h1v1h-1zM1021 314h1v1h-1zM1020 315h1v1h-1zM1019 316h1v1h-1zM1018 317h1v1h-1zM1016 318h2v1h-2zM1015 319h1v1h-1zM1013 320h2v1h-2zM1011 321h2v1h-2zM1010 322h1v1h-1zM1008 323h2v1h-2zM1007 324h1v1h-1zM1005 325h2v1h-2zM1003 326h2v1h-2zM1000 327h3v1h-3zM996 328h4v1h-4zM988 329h8v1h-8zM972 330h4v1h-4zM980 330h8v1h-8zM969 331h3v1h-3zM976 331h4v1h-4zM967 332h2v1h-2zM965 333h2v1h-2zM963 334h2v1h-2zM961 335h2v1h-2zM959 336h2v1h-2zM957 337h2v1h-2zM955 338h2v1h-2zM953 339h2v1h-2zM951 340h2v1h-2zM950 341h1v1h-1zM948 342h2v1h-2zM947 343h1v1h-1zM946 344h1v1h-1zM945 345h1v1h-1zM944 346h1v1h-1zM943 347h1v1h-1zM942 348h1v1h-1zM941 349h1v1h-1zM940 350h1v1h-1zM939 351h1v1h-1zM938 352h1v1h-1zM937 353h1v1h-1zM936 354h1v1h-1zM935 355h1v1h-1zM934 356h1v1h-1zM933 357h1v1h-1zM932 358h1v1h-1zM931 359h1v1h-1zM930 360h1v1h-1zM928 361h2v1h-2zM927 362h1v1h-1zM926 363h1v1h-1zM925 364h1v1h-1zM924 365h1v1h-1zM923 366h1v1h-1zM922 367h1v1h-1zM921 368h1v1h-1zM920 369h1v2h-1zM919 371h1v1h-1zM918 372h1v1h-1zM917 373h1v1h-1zM916 374h1v1h-1zM915 375h1v1h-1zM914 376h1v1h-1zM913 377h1v1h-1zM372 378h8v1h-8zM912 378h1v2h-1zM364 379h8v1h-8zM380 379h8v1h-8zM360 380h4v1h-4zM388 380h8v1h-8zM911 380h1v1h-1zM356 381h4v1h-4zM396 381h4v1h-4zM910 381h1v1h-1zM344 382h12v1h-12zM400 382h4v1h-4zM909 382h1v1h-1zM340 383h4v1h-4zM404 383h8v1h-8zM908 383h1v2h-1zM337 384h3v1h-3zM412 384h4v1h-4zM335 385h2v1h-2zM416 385h4v1h-4zM907 385h1v1h-1zM333 386h2v1h-2zM420 386h4v1h-4zM906 386h1v1h-1zM331 387h2v1h-2zM424 387h4v1h-4zM905 387h1v1h-1zM330 388h1v1h-1zM428 388h4v1h-4zM904 388h1v2h-1zM328 389h2v1h-2zM432 389h3v1h-3zM327 390h1v1h-1zM435 390h2v1h-2zM903 390h1v1h-1zM325 391h2v1h-2zM437 391h2v1h-2zM902 391h1v1h-1zM323 392h2v1h-2zM439 392h2v1h-2zM901 392h1v1h-1zM322 393h1v1h-1zM441 393h2v1h-2zM900 393h1v2h-1zM320 394h2v1h-2zM443 394h1v1h-1zM319 395h1v1h-1zM444 395h2v1h-2zM899 395h1v1h-1zM176 396h8v1h-8zM317 396h2v1h-2zM446 396h1v1h-1zM898 396h1v1h-1zM168 397h8v1h-8zM184 397h3v1h-3zM315 397h2v1h-2zM447 397h1v1h-1zM897 397h1v1h-1zM152 398h16v1h-16zM187 398h2v1h-2zM313 398h2v1h-2zM448 398h2v1h-2zM896 398h1v1h-1zM144 399h8v1h-8zM189 399h3v1h-3zM311 399h2v1h-2zM450 399h1v1h-1zM895 399h1v1h-1zM136 400h8v1h-8zM192 400h3v1h-3zM309 400h2v1h-2zM451 400h2v1h-2zM894 400h1v1h-1zM133 401h3v1h-3zM195 401h2v1h-2zM307 401h2v1h-2zM453 401h2v1h-2zM893 401h1v2h-1zM131 402h2v1h-2zM197 402h3v1h-3zM300 402h7v1h-7zM455 402h1v1h-1zM128 403h3v1h-3zM200 403h3v1h-3zM281 403h19v1h-19zM456 403h2v1h-2zM892 403h1v1h-1zM126 404h2v1h-2zM203 404h2v1h-2zM279 404h2v1h-2zM458 404h1v1h-1zM891 404h1v2h-1zM125 405h1v1h-1zM205 405h3v1h-3zM276 405h3v1h-3zM459 405h1v1h-1zM124 406h1v1h-1zM208 406h4v1h-4zM273 406h3v1h-3zM460 406h2v1h-2zM890 406h1v1h-1zM123 407h1v1h-1zM212 407h4v1h-4zM271 407h2v1h-2zM462 407h1v1h-1zM889 407h1v1h-1zM121 408h2v1h-2zM216 408h12v1h-12zM268 408h3v1h-3zM463 408h1v1h-1zM888 408h1v2h-1zM119 409h2v1h-2zM228 409h7v1h-7zM265 409h3v1h-3zM464 409h2v1h-2zM118 410h1v1h-1zM235 410h2v1h-2zM263 410h2v1h-2zM466 410h1v1h-1zM887 410h1v1h-1zM116 411h2v1h-2zM237 411h3v1h-3zM260 411h3v1h-3zM467 411h1v1h-1zM886 411h1v1h-1zM115 412h1v1h-1zM240 412h4v1h-4zM256 412h4v1h-4zM468 412h2v1h-2zM885 412h1v1h-1zM114 413h1v1h-1zM244 413h12v1h-12zM470 413h1v1h-1zM884 413h1v2h-1zM112 414h2v1h-2zM471 414h1v1h-1zM111 415h1v1h-1zM472 415h2v1h-2zM883 415h1v1h-1zM109 416h2v1h-2zM474 416h1v1h-1zM882 416h1v1h-1zM107 417h2v1h-2zM475 417h1v1h-1zM636 417h4v1h-4zM881 417h1v2h-1zM105 418h2v1h-2zM476 418h1v1h-1zM632 418h4v1h-4zM640 418h3v1h-3zM103 419h2v1h-2zM477 419h1v1h-1zM629 419h3v1h-3zM643 419h1v1h-1zM880 419h1v2h-1zM100 420h3v1h-3zM478 420h1v1h-1zM627 420h2v1h-2zM644 420h2v1h-2zM96 421h4v1h-4zM479 421h1v1h-1zM626 421h1v1h-1zM646 421h1v1h-1zM879 421h1v2h-1zM2 422h1v1h-1zM92 422h4v1h-4zM480 422h2v1h-2zM584 422h4v1h-4zM625 422h1v1h-1zM647 422h2v1h-2zM3 423h2v1h-2zM84 423h8v1h-8zM482 423h1v1h-1zM582 423h2v1h-2zM588 423h3v1h-3zM624 423h1v1h-1zM649 423h2v1h-2zM878 423h1v1h-1zM5 424h2v1h-2zM80 424h4v1h-4zM483 424h1v1h-1zM580 424h2v1h-2zM591 424h2v1h-2zM623 424h1v1h-1zM651 424h1v1h-1zM877 424h1v2h-1zM7 425h2v1h-2zM76 425h4v1h-4zM484 425h1v1h-1zM579 425h1v1h-1zM593 425h2v1h-2zM621 425h2v1h-2zM652 425h1v2h-1zM9 426h2v1h-2zM73 426h3v1h-3zM485 426h1v1h-1zM576 426h3v1h-3zM595 426h2v1h-2zM619 426h2v1h-2zM876 426h1v2h-1zM11 427h2v1h-2zM71 427h2v1h-2zM486 427h1v1h-1zM573 427h3v1h-3zM597 427h2v1h-2zM618 427h1v1h-1zM653 427h1v1h-1zM13 428h3v1h-3zM68 428h3v1h-3zM487 428h1v1h-1zM571 428h2v1h-2zM599 428h2v1h-2zM616 428h2v1h-2zM654 428h1v1h-1zM875 428h1v2h-1zM16 429h20v1h-20zM60 429h8v1h-8zM488 429h1v1h-1zM568 429h3v1h-3zM601 429h3v1h-3zM615 429h1v1h-1zM655 429h1v1h-1zM36 430h24v1h-24zM489 430h1v1h-1zM566 430h2v1h-2zM604 430h4v1h-4zM612 430h3v1h-3zM656 430h2v1h-2zM874 430h1v1h-1zM490 431h1v1h-1zM564 431h2v1h-2zM608 431h4v1h-4zM658 431h1v1h-1zM873 431h1v2h-1zM491 432h1v1h-1zM563 432h1v1h-1zM659 432h1v1h-1zM492 433h1v1h-1zM562 433h1v1h-1zM660 433h1v1h-1zM872 433h1v1h-1zM493 434h1v1h-1zM561 434h1v1h-1zM661 434h1v1h-1zM871 434h1v2h-1zM494 435h1v1h-1zM560 435h1v1h-1zM662 435h1v1h-1zM495 436h1v1h-1zM559 436h1v1h-1zM663 436h1v1h-1zM870 436h1v1h-1zM496 437h1v1h-1zM558 437h1v1h-1zM664 437h2v1h-2zM869 437h1v1h-1zM497 438h1v1h-1zM557 438h1v1h-1zM666 438h1v1h-1zM868 438h1v2h-1zM498 439h1v1h-1zM667 439h1v1h-1zM556 439h1v2h-1zM499 440h1v1h-1zM668 440h1v1h-1zM867 440h1v1h-1zM500 441h2v1h-2zM555 441h1v1h-1zM669 441h1v1h-1zM866 441h1v1h-1zM502 442h1v1h-1zM554 442h1v1h-1zM670 442h1v1h-1zM865 442h1v1h-1zM503 443h1v1h-1zM552 443h2v1h-2zM671 443h1v1h-1zM864 443h1v1h-1zM504 444h2v1h-2zM551 444h1v1h-1zM863 444h1v1h-1zM672 444h1v2h-1zM506 445h1v1h-1zM549 445h2v1h-2zM862 445h1v1h-1zM507 446h1v1h-1zM547 446h2v1h-2zM673 446h1v1h-1zM860 446h2v1h-2zM508 447h2v1h-2zM545 447h2v1h-2zM674 447h1v1h-1zM859 447h1v1h-1zM510 448h1v1h-1zM543 448h2v1h-2zM858 448h1v1h-1zM675 448h1v2h-1zM511 449h1v1h-1zM541 449h2v1h-2zM857 449h1v1h-1zM512 450h2v1h-2zM539 450h2v1h-2zM676 450h1v2h-1zM856 450h1v2h-1zM514 451h1v1h-1zM537 451h2v1h-2zM515 452h1v1h-1zM535 452h2v1h-2zM855 452h1v1h-1zM677 452h1v2h-1zM516 453h2v1h-2zM533 453h2v1h-2zM854 453h1v1h-1zM518 454h6v1h-6zM531 454h2v1h-2zM678 454h1v1h-1zM853 454h1v1h-1zM524 455h7v1h-7zM679 455h1v1h-1zM852 455h1v2h-1zM680 456h1v1h-1zM681 457h1v1h-1zM851 457h1v1h-1zM682 458h1v1h-1zM850 458h1v1h-1zM683 459h1v1h-1zM849 459h1v1h-1zM848 460h1v1h-1zM684 460h1v2h-1zM847 461h1v1h-1zM685 462h1v1h-1zM846 462h1v1h-1zM686 463h1v1h-1zM845 463h1v1h-1zM687 464h1v1h-1zM844 464h1v1h-1zM688 465h2v1h-2zM843 465h1v1h-1zM690 466h1v1h-1zM842 466h1v1h-1zM691 467h2v1h-2zM841 467h1v1h-1zM693 468h2v1h-2zM840 468h1v1h-1zM695 469h1v1h-1zM732 469h4v1h-4zM839 469h1v1h-1zM696 470h2v1h-2zM724 470h8v1h-8zM736 470h4v1h-4zM838 470h1v1h-1zM698 471h1v1h-1zM721 471h3v1h-3zM740 471h3v1h-3zM837 471h1v1h-1zM699 472h1v1h-1zM719 472h2v1h-2zM743 472h2v1h-2zM836 472h1v1h-1zM700 473h2v1h-2zM716 473h3v1h-3zM745 473h3v1h-3zM835 473h1v1h-1zM702 474h1v1h-1zM713 474h3v1h-3zM748 474h3v1h-3zM834 474h1v1h-1zM703 475h2v1h-2zM711 475h2v1h-2zM751 475h2v1h-2zM832 475h2v1h-2zM705 476h6v1h-6zM753 476h2v1h-2zM831 476h1v1h-1zM755 477h2v1h-2zM772 477h4v1h-4zM829 477h2v1h-2zM757 478h3v1h-3zM764 478h8v1h-8zM776 478h7v1h-7zM827 478h2v1h-2zM760 479h4v1h-4zM783 479h2v1h-2zM824 479h3v1h-3zM785 480h3v1h-3zM816 480h8v1h-8zM788 481h3v1h-3zM808 481h8v1h-8zM791 482h2v1h-2zM804 482h4v1h-4zM793 483h11v1h-11z"/>
</g>
</g>
<g id="rsi">
<g shape-rendering="crispEdges">
<path fill="#c0c0c0" d="M3 612h3v1h-3zM9 612h3v1h-3zM15 612h3v1h-3zM21 612h3v1h-3zM27 612h3v1h-3zM33 612h3v1h-3zM39 612h3v1h-3zM45 612h3v1h-3zM51 612h3v1h-3zM57 612h3v1h-3zM63 612h3v1h-3zM69 612h3v1h-3zM75 612h3v1h-3zM81 612h3v1h-3zM87 612h3v1h-3zM93 612h3v1h-3zM99 612h3v1h-3zM105 612h3v1h-3zM111 612h3v1h-3zM117 612h3v1h-3zM123 612h3v1h-3zM129 612h3v1h-3zM135 612h3v1h-3zM141 612h3v1h-3zM147 612h3v1h-3zM153 612h3v1h-3zM159 612h3v1h-3zM165 612h3v1h-3zM171 612h3v1h-3zM177 612h3v1h-3zM183 612h3v1h-3zM189 612h3v1h-3zM195 612h3v1h-3zM201 612h3v1h-3zM207 612h3v1h-3zM213 612h3v1h-3zM219 612h3v1h-3zM225 612h3v1h-3zM231 612h3v1h-3zM237 612h3v1h-3zM243 612h3v1h-3zM249 612h3v1h-3zM255 612h3v1h-3zM261 612h3v1h-3zM267 612h3v1h-3zM273 612h3v1h-3zM279 612h3v1h-3zM285 612h3v1h-3zM291 612h3v1h-3zM297 612h3v1h-3zM303 612h3v1h-3zM309 612h3v1h-3zM315 612h3v1h-3zM321 612h3v1h-3zM327 612h3v1h-3zM333 612h3v1h-3zM339 612h3v1h-3zM345 612h3v1h-3zM351 612h3v1h-3zM357 612h3v1h-3zM363 612h3v1h-3zM369 612h3v1h-3zM375 612h3v1h-3zM381 612h3v1h-3zM387 612h3v1h-3zM393 612h3v1h-3zM399 612h3v1h-3zM405 612h3v1h-3zM411 612h3v1h-3zM417 612h3v1h-3zM423 612h3v1h-3zM429 612h3v1h-3zM435 612h3v1h-3zM441 612h3v1h-3zM447 612h3v1h-3zM453 612h3v1h-3zM459 612h3v1h-3zM465 612h3v1h-3zM471 612h3v1h-3zM477 612h3v1h-3zM483 612h3v1h-3zM489 612h3v1h-3zM495 612h3v1h-3zM501 612h3v1h-3zM507 612h3v1h-3zM513 612h3v1h-3zM519 612h3v1h-3zM525 612h3v1h-3zM531 612h3v1h-3zM537 612h3v1h-3zM543 612h3v1h-3zM549 612h3v1h-3zM555 612h3v1h-3zM561 612h3v1h-3zM567 612h3v1h-3zM573 612h3v1h-3zM579 612h3v1h-3zM585 612h3v1h-3zM591 612h3v1h-3zM597 612h3v1h-3zM603 612h3v1h-3zM609 612h3v1h-3zM615 612h3v1h-3zM621 612h3v1h-3zM627 612h3v1h-3zM633 612h3v1h-3zM639 612h3v1h-3zM645 612h3v1h-3zM651 612h3v1h-3zM657 612h3v1h-3zM663 612h3v1h-3zM669 612h3v1h-3zM675 612h3v1h-3zM681 612h3v1h-3zM687 612h3v1h-3zM693 612h3v1h-3zM699 612h3v1h-3zM705 612h3v1h-3zM711 612h3v1h-3zM717 612h3v1h-3zM723 612h3v1h-3zM729 612h3v1h-3zM735 612h3v1h-3zM741 612h3v1h-3zM747 612h3v1h-3zM753 612h3v1h-3zM759 612h3v1h-3zM765 612h3v1h-3zM771 612h3v1h-3zM777 612h3v1h-3zM783 612h3v1h-3zM789 612h3v1h-3zM795 612h3v1h-3zM801 612h3v1h-3zM807 612h3v1h-3zM813 612h3v1h-3zM819 612h3v1h-3zM825 612h3v1h-3zM831 612h3v1h-3zM837 612h3v1h-3zM843 612h3v1h-3zM849 612h3v1h-3zM855 612h3v1h-3zM861 612h3v1h-3zM867 612h3v1h-3zM873 612h3v1h-3zM879 612h3v1h-3zM885 612h3v1h-3zM891 612h3v1h-3zM897 612h3v1h-3zM903 612h3v1h-3zM909 612h3v1h-3zM915 612h3v1h-3zM921 612h3v1h-3zM927 612h3v1h-3zM933 612h3v1h-3zM939 612h3v1h-3zM945 612h3v1h-3zM951 612h3v1h-3zM957 612h3v1h-3zM963 612h3v1h-3zM969 612h3v1h-3zM975 612h3v1h-3zM981 612h3v1h-3zM987 612h3v1h-3zM993 612h3v1h-3zM999 612h3v1h-3zM1005 612h3v1h-3zM1011 612h3v1h-3zM1017 612h3v1h-3zM1023 612h3v1h-3zM1029 612h3v1h-3zM1035 612h3v1h-3zM1041 612h3v1h-3zM1047 612h3v1h-3zM1053 612h3v1h-3zM1059 612h3v1h-3zM1065 612h3v1h-3zM1071 612h3v1h-3zM1077 612h3v1h-3zM1083 612h3v1h-3zM1089 612h3v1h-3zM1095 612h3v1h-3zM1101 612h3v1h-3zM1107 612h3v1h-3zM1113 612h3v1h-3zM1119 612h3v1h-3zM1125 612h3v1h-3zM1131 612h3v1h-3zM1137 612h3v1h-3zM1143 612h3v1h-3zM1149 612h3v1h-3zM1155 612h3v1h-3zM1161 612h3v1h-3zM1167 612h3v1h-3zM1173 612h3v1h-3zM1179 612h3v1h-3zM1185 612h3v1h-3zM1191 612h3v1h-3zM1197 612h3v1h-3zM1203 612h3v1h-3zM1209 612h3v1h-3zM1215 612h3v1h-3zM1221 612h3v1h-3zM1227 612h3v1h-3zM1233 612h3v1h-3zM1239 612h3v1h-3zM1245 612h3v1h-3zM1251 612h3v1h-3zM1257 612h3v1h-3zM1263 612h3v1h-3zM1269 612h3v1h-3zM1275 612h3v1h-3zM1281 612h3v1h-3zM1287 612h3v1h-3zM1293 612h3v1h-3zM1299 612h3v1h-3zM1305 612h3v1h-3zM1311 612h3v1h-3zM1317 612h3v1h-3zM1323 612h3v1h-3zM1329 612h3v1h-3zM1335 612h3v1h-3zM1341 612h3v1h-3zM1347 612h3v1h-3zM1353 612h3v1h-3zM1359 612h3v1h-3zM1365 612h3v1h-3zM1371 612h3v1h-3zM1377 612h3v1h-3zM1383 612h3v1h-3zM1389 612h3v1h-3zM1395 612h3v1h-3zM1401 612h3v1h-3zM1407 612h3v1h-3zM1413 612h3v1h-3zM1419 612h3v1h-3zM1425 612h3v1h-3zM1431 612h3v1h-3zM1437 612h3v1h-3zM1443 612h3v1h-3zM1449 612h3v1h-3zM1455 612h3v1h-3zM1461 612h3v1h-3zM1467 612h3v1h-3zM1473 612h3v1h-3zM1479 612h3v1h-3zM1485 612h3v1h-3zM1491 612h3v1h-3zM1497 612h3v1h-3zM1503 612h3v1h-3zM1509 612h3v1h-3zM1515 612h3v1h-3zM1521 612h3v1h-3zM1527 612h3v1h-3zM1533 612h3v1h-3zM1539 612h3v1h-3zM1545 612h3v1h-3zM1551 612h3v1h-3zM1557 612h3v1h-3zM1563 612h3v1h-3zM1569 612h3v1h-3zM1575 612h3v1h-3zM1581 612h3v1h-3zM1587 612h3v1h-3zM1593 612h3v1h-3zM3 652h3v1h-3zM9 652h3v1h-3zM15 652h3v1h-3zM21 652h3v1h-3zM27 652h3v1h-3zM33 652h3v1h-3zM39 652h3v1h-3zM45 652h3v1h-3zM51 652h3v1h-3zM57 652h3v1h-3zM63 652h3v1h-3zM69 652h3v1h-3zM75 652h3v1h-3zM81 652h3v1h-3zM87 652h3v1h-3zM93 652h3v1h-3zM99 652h3v1h-3zM105 652h3v1h-3zM111 652h3v1h-3zM117 652h3v1h-3zM123 652h3v1h-3zM129 652h3v1h-3zM135 652h3v1h-3zM141 652h3v1h-3zM147 652h3v1h-3zM153 652h3v1h-3zM159 652h3v1h-3zM165 652h3v1h-3zM171 652h3v1h-3zM177 652h3v1h-3zM183 652h3v1h-3zM189 652h3v1h-3zM195 652h3v1h-3zM201 652h3v1h-3zM207 652h3v1h-3zM213 652h3v1h-3zM219 652h3v1h-3zM225 652h3v1h-3zM231 652h3v1h-3zM237 652h3v1h-3zM243 652h3v1h-3zM249 652h3v1h-3zM255 652h3v1h-3zM261 652h3v1h-3zM267 652h3v1h-3zM273 652h3v1h-3zM279 652h3v1h-3zM285 652h3v1h-3zM291 652h3v1h-3zM297 652h3v1h-3zM303 652h3v1h-3zM309 652h3v1h-3zM315 652h3v1h-3zM321 652h3v1h-3zM327 652h3v1h-3zM333 652h3v1h-3zM339 652h3v1h-3zM345 652h3v1h-3zM351 652h3v1h-3zM357 652h3v1h-3zM363 652h3v1h-3zM369 652h3v1h-3zM375 652h3v1h-3zM381 652h3v1h-3zM387 652h3v1h-3zM393 652h3v1h-3zM399 652h3v1h-3zM405 652h3v1h-3zM411 652h3v1h-3zM417 652h3v1h-3zM423 652h3v1h-3zM429 652h3v1h-3zM435 652h3v1h-3zM441 652h3v1h-3zM447 652h3v1h-3zM453 652h3v1h-3zM459 652h3v1h-3zM465 652h3v1h-3zM471 652h3v1h-3zM477 652h3v1h-3zM483 652h3v1h-3zM489 652h3v1h-3zM495 652h3v1h-3zM501 652h3v1h-3zM507 652h3v1h-3zM513 652h3v1h-3zM519 652h3v1h-3zM525 652h3v1h-3zM531 652h3v1h-3zM537 652h3v1h-3zM543 652h3v1h-3zM549 652h3v1h-3zM555 652h3v1h-3zM561 652h3v1h-3zM567 652h3v1h-3zM573 652h3v1h-3zM579 652h3v1h-3zM585 652h3v1h-3zM591 652h3v1h-3zM597 652h3v1h-3zM603 652h3v1h-3zM609 652h3v1h-3zM615 652h3v1h-3zM621 652h3v1h-3zM627 652h3v1h-3zM633 652h3v1h-3zM639 652h3v1h-3zM645 652h3v1h-3zM651 652h3v1h-3zM657 652h3v1h-3zM663 652h3v1h-3zM669 652h3v1h-3zM675 652h3v1h-3zM681 652h3v1h-3zM687 652h3v1h-3zM693 652h3v1h-3zM699 652h3v1h-3zM705 652h3v1h-3zM711 652h3v1h-3zM717 652h3v1h-3zM723 652h3v1h-3zM729 652h3v1h-3zM735 652h3v1h-3zM741 652h3v1h-3zM747 652h3v1h-3zM753 652h3v1h-3zM759 652h3v1h-3zM765 652h3v1h-3zM771 652h3v1h-3zM777 652h3v1h-3zM783 652h3v1h-3zM789 652h3v1h-3zM795 652h3v1h-3zM801 652h3v1h-3zM807 652h3v1h-3zM813 652h3v1h-3zM819 652h3v1h-3zM825 652h3v1h-3zM831 652h3v1h-3zM837 652h3v1h-3zM843 652h3v1h-3zM849 652h3v1h-3zM855 652h3v1h-3zM861 652h3v1h-3zM867 652h3v1h-3zM873 652h3v1h-3zM879 652h3v1h-3zM885 652h3v1h-3zM891 652h3v1h-3zM897 652h3v1h-3zM903 652h3v1h-3zM909 652h3v1h-3zM915 652h3v1h-3zM921 652h3v1h-3zM927 652h3v1h-3zM933 652h3v1h-3zM939 652h3v1h-3zM945 652h3v1h-3zM951 652h3v1h-3zM957 652h3v1h-3zM963 652h3v1h-3zM969 652h3v1h-3zM975 652h3v1h-3zM981 652h3v1h-3zM987 652h3v1h-3zM993 652h3v1h-3zM999 652h3v1h-3zM1005 652h3v1h-3zM1011 652h3v1h-3zM1017 652h3v1h-3zM1023 652h3v1h-3zM1029 652h3v1h-3zM1035 652h3v1h-3zM1041 652h3v1h-3zM1047 652h3v1h-3zM1053 652h3v1h-3zM1059 652h3v1h-3zM1065 652h3v1h-3zM1071 652h3v1h-3zM1077 652h3v1h-3zM1083 652h3v1h-3zM1089 652h3v1h-3zM1095 652h3v1h-3zM1101 652h3v1h-3zM1107 652h3v1h-3zM1113 652h3v1h-3zM1119 652h3v1h-3zM1125 652h3v1h-3zM1131 652h3v1h-3zM1137 652h3v1h-3zM1143 652h3v1h-3zM1149 652h3v1h-3zM1155 652h3v1h-3zM1161 652h3v1h-3zM1167 652h3v1h-3zM1173 652h3v1h-3zM1179 652h3v1h-3zM1185 652h3v1h-3zM1191 652h3v1h-3zM1197 652h3v1h-3zM1203 652h3v1h-3zM1209 652h3v1h-3zM1215 652h3v1h-3zM1221 652h3v1h-3zM1227 652h3v1h-3zM1233 652h3v1h-3zM1239 652h3v1h-3zM1245 652h3v1h-3zM1251 652h3v1h-3zM1257 652h3v1h-3zM1263 652h3v1h-3zM1269 652h3v1h-3zM1275 652h3v1h-3zM1281 652h3v1h-3zM1287 652h3v1h-3zM1293 652h3v1h-3zM1299 652h3v1h-3zM1305 652h3v1h-3zM1311 652h3v1h-3zM1317 652h3v1h-3zM1323 652h3v1h-3zM1329 652h3v1h-3zM1335 652h3v1h-3zM1341 652h3v1h-3zM1347 652h3v1h-3zM1353 652h3v1h-3zM1359 652h3v1h-3zM1365 652h3v1h-3zM1371 652h3v1h-3zM1377 652h3v1h-3zM1383 652h3v1h-3zM1389 652h3v1h-3zM1395 652h3v1h-3zM1401 652h3v1h-3zM1407 652h3v1h-3zM1413 652h3v1h-3zM1419 652h3v1h-3zM1425 652h3v1h-3zM1431 652h3v1h-3zM1437 652h3v1h-3zM1443 652h3v1h-3zM1449 652h3v1h-3zM1455 652h3v1h-3zM1461 652h3v1h-3zM1467 652h3v1h-3zM1473 652h3v1h-3zM1479 652h3v1h-3zM1485 652h3v1h-3zM1491 652h3v1h-3zM1497 652h3v1h-3zM1503 652h3v1h-3zM1509 652h3v1h-3zM1515 652h3v1h-3zM1521 652h3v1h-3zM1527 652h3v1h-3zM1533 652h3v1h-3zM1539 652h3v1h-3zM1545 652h3v1h-3zM1551 652h3v1h-3zM1557 652h3v1h-3zM1563 652h3v1h-3zM1569 652h3v1h-3zM1575 652h3v1h-3zM1581 652h3v1h-3zM1587 652h3v1h-3zM1593 652h3v1h-3z"/>
</g>
<path shape-rendering="crispEdges" fill="#1e90ff" d="M1038 597h1v1h-1zM1052 597h3v1h-3zM1037 598h1v1h-1zM1039 598h1v1h-1zM1048 598h4v1h-4zM1055 598h1v2h-1zM1036 599h1v1h-1zM1040 599h1v1h-1zM1045 599h3v1h-3zM1035 600h1v1h-1zM1041 600h1v1h-1zM1043 600h2v1h-2zM558 600h1v2h-1zM1056 600h1v2h-1zM556 601h2v1h-2zM1028 601h7v1h-7zM1042 601h1v1h-1zM555 602h1v1h-1zM1024 602h4v1h-4zM559 602h1v2h-1zM1057 602h1v2h-1zM550 603h5v1h-5zM1022 603h2v1h-2zM1070 603h1v1h-1zM858 604h1v1h-1zM880 604h2v1h-2zM1058 604h1v1h-1zM549 604h1v2h-1zM1021 604h1v2h-1zM1069 604h1v2h-1zM1071 604h1v2h-1zM560 604h1v3h-1zM882 604h1v3h-1zM538 605h1v1h-1zM856 605h2v1h-2zM859 605h1v1h-1zM876 605h4v1h-4zM1059 605h1v2h-1zM536 606h2v1h-2zM855 606h1v1h-1zM860 606h1v1h-1zM874 606h2v1h-2zM1020 606h1v1h-1zM1068 606h1v1h-1zM1072 606h1v1h-1zM539 606h1v2h-1zM548 606h1v2h-1zM535 607h1v1h-1zM854 607h1v1h-1zM861 607h1v1h-1zM872 607h2v1h-2zM1060 607h1v1h-1zM561 607h1v2h-1zM1019 607h1v2h-1zM1067 607h1v2h-1zM1073 607h1v2h-1zM883 607h1v4h-1zM853 608h1v1h-1zM862 608h2v1h-2zM871 608h1v1h-1zM534 608h1v2h-1zM540 608h1v2h-1zM547 608h1v2h-1zM1061 608h1v2h-1zM852 609h1v1h-1zM864 609h7v1h-7zM1018 609h1v1h-1zM1064 609h3v1h-3zM562 609h1v2h-1zM1074 609h1v2h-1zM546 610h1v1h-1zM851 610h1v1h-1zM1017 610h1v1h-1zM1062 610h2v1h-2zM1114 610h1v1h-1zM533 610h1v2h-1zM541 610h1v2h-1zM544 611h2v1h-2zM850 611h1v1h-1zM1016 611h1v1h-1zM1113 611h1v1h-1zM1115 611h1v1h-1zM563 611h1v2h-1zM1075 611h1v2h-1zM884 611h1v5h-1zM72 612h3v1h-3zM322 612h1v1h-1zM543 612h1v1h-1zM848 612h2v1h-2zM1015 612h1v1h-1zM1112 612h1v1h-1zM532 612h1v2h-1zM542 612h1v2h-1zM1116 612h1v2h-1zM69 613h3v1h-3zM75 613h1v1h-1zM320 613h2v1h-2zM323 613h1v1h-1zM847 613h1v1h-1zM1004 613h4v1h-4zM1012 613h3v1h-3zM1111 613h1v1h-1zM564 613h1v2h-1zM1076 613h1v3h-1zM67 614h2v1h-2zM319 614h1v1h-1zM324 614h2v1h-2zM838 614h1v1h-1zM845 614h2v1h-2zM1001 614h3v1h-3zM1008 614h4v1h-4zM1109 614h2v1h-2zM1117 614h1v1h-1zM76 614h1v2h-1zM531 614h1v2h-1zM66 615h1v1h-1zM117 615h2v1h-2zM317 615h2v1h-2zM326 615h1v1h-1zM836 615h2v1h-2zM839 615h2v1h-2zM843 615h2v1h-2zM999 615h2v1h-2zM1107 615h2v1h-2zM1118 615h1v1h-1zM1158 615h2v1h-2zM565 615h1v2h-1zM77 616h1v1h-1zM115 616h2v1h-2zM119 616h1v1h-1zM315 616h2v1h-2zM327 616h2v1h-2zM835 616h1v1h-1zM841 616h2v1h-2zM994 616h5v1h-5zM1100 616h7v1h-7zM1119 616h1v1h-1zM1157 616h1v1h-1zM1160 616h2v1h-2zM65 616h1v2h-1zM530 616h1v2h-1zM1077 616h1v2h-1zM1162 616h1v2h-1zM885 616h1v4h-1zM78 617h2v1h-2zM114 617h1v1h-1zM120 617h2v1h-2zM274 617h1v1h-1zM313 617h2v1h-2zM329 617h1v1h-1zM992 617h2v1h-2zM1097 617h3v1h-3zM330 617h1v2h-1zM834 617h1v2h-1zM1120 617h1v2h-1zM1156 617h1v2h-1zM566 617h1v3h-1zM64 618h1v1h-1zM80 618h3v1h-3zM113 618h1v1h-1zM122 618h1v1h-1zM262 618h1v1h-1zM272 618h2v1h-2zM311 618h2v1h-2zM529 618h1v1h-1zM991 618h1v1h-1zM1080 618h3v1h-3zM1095 618h2v1h-2zM1150 618h1v1h-1zM275 618h1v2h-1zM1078 618h1v2h-1zM1163 618h1v4h-1zM83 619h1v1h-1zM123 619h2v1h-2zM260 619h2v1h-2zM263 619h1v1h-1zM271 619h1v1h-1zM922 619h1v1h-1zM990 619h1v1h-1zM1079 619h1v1h-1zM1083 619h1v1h-1zM1093 619h2v1h-2zM1121 619h1v1h-1zM1151 619h2v1h-2zM1155 619h1v1h-1zM63 619h1v2h-1zM112 619h1v2h-1zM310 619h1v2h-1zM331 619h1v2h-1zM528 619h1v2h-1zM833 619h1v2h-1zM1149 619h1v2h-1zM84 620h1v1h-1zM125 620h1v1h-1zM259 620h1v1h-1zM264 620h1v1h-1zM269 620h2v1h-2zM921 620h1v1h-1zM974 620h1v1h-1zM1084 620h1v1h-1zM1091 620h2v1h-2zM1153 620h2v1h-2zM126 620h1v2h-1zM276 620h1v2h-1zM923 620h1v2h-1zM989 620h1v2h-1zM1122 620h1v2h-1zM886 620h1v3h-1zM567 620h1v4h-1zM62 621h1v1h-1zM85 621h1v1h-1zM111 621h1v1h-1zM258 621h1v1h-1zM265 621h1v1h-1zM267 621h2v1h-2zM527 621h1v1h-1zM894 621h1v1h-1zM920 621h1v1h-1zM972 621h2v1h-2zM975 621h1v1h-1zM1085 621h1v1h-1zM1088 621h3v1h-3zM832 621h1v2h-1zM966 621h1v2h-1zM1148 621h1v2h-1zM309 621h1v3h-1zM332 621h1v3h-1zM86 622h1v1h-1zM108 622h3v1h-3zM266 622h1v1h-1zM523 622h4v1h-4zM742 622h1v1h-1zM806 622h1v1h-1zM892 622h2v1h-2zM895 622h2v1h-2zM919 622h1v1h-1zM924 622h1v1h-1zM967 622h2v1h-2zM971 622h1v1h-1zM982 622h1v1h-1zM1086 622h2v1h-2zM61 622h1v2h-1zM257 622h1v2h-1zM277 622h1v2h-1zM342 622h1v2h-1zM976 622h1v2h-1zM988 622h1v2h-1zM1123 622h1v2h-1zM522 622h1v3h-1zM1164 622h1v3h-1zM127 622h1v4h-1zM87 623h1v1h-1zM106 623h2v1h-2zM232 623h2v1h-2zM341 623h1v1h-1zM741 623h1v1h-1zM743 623h2v1h-2zM804 623h2v1h-2zM807 623h1v1h-1zM887 623h2v1h-2zM891 623h1v1h-1zM897 623h2v1h-2zM969 623h2v1h-2zM980 623h2v1h-2zM983 623h1v1h-1zM234 623h1v2h-1zM831 623h1v2h-1zM918 623h1v2h-1zM925 623h1v2h-1zM965 623h1v2h-1zM1147 623h1v2h-1zM60 624h1v1h-1zM88 624h1v1h-1zM105 624h1v1h-1zM228 624h4v1h-4zM256 624h1v1h-1zM340 624h1v1h-1zM626 624h1v1h-1zM745 624h2v1h-2zM803 624h1v1h-1zM808 624h2v1h-2zM826 624h2v1h-2zM889 624h2v1h-2zM899 624h1v1h-1zM977 624h1v1h-1zM979 624h1v1h-1zM984 624h1v1h-1zM278 624h1v2h-1zM308 624h1v2h-1zM333 624h1v2h-1zM343 624h1v2h-1zM740 624h1v2h-1zM987 624h1v2h-1zM1124 624h1v3h-1zM568 624h1v4h-1zM48 625h3v1h-3zM89 625h1v1h-1zM104 625h1v1h-1zM225 625h3v1h-3zM250 625h1v1h-1zM339 625h1v1h-1zM624 625h2v1h-2zM802 625h1v1h-1zM810 625h1v1h-1zM828 625h3v1h-3zM900 625h1v1h-1zM926 625h1v1h-1zM978 625h1v1h-1zM985 625h1v1h-1zM1145 625h2v1h-2zM59 625h1v2h-1zM235 625h1v2h-1zM255 625h1v2h-1zM627 625h1v2h-1zM747 625h1v2h-1zM825 625h1v2h-1zM917 625h1v2h-1zM964 625h1v2h-1zM1165 625h1v4h-1zM521 625h1v5h-1zM46 626h2v1h-2zM51 626h1v1h-1zM90 626h1v1h-1zM103 626h1v1h-1zM223 626h2v1h-2zM249 626h1v1h-1zM251 626h2v1h-2zM279 626h2v1h-2zM336 626h3v1h-3zM623 626h1v1h-1zM739 626h1v1h-1zM800 626h2v1h-2zM901 626h1v1h-1zM927 626h1v1h-1zM949 626h2v1h-2zM986 626h1v1h-1zM1136 626h4v1h-4zM1143 626h2v1h-2zM1194 626h1v1h-1zM334 626h1v2h-1zM811 626h1v2h-1zM307 626h1v3h-1zM344 626h1v3h-1zM128 626h1v4h-1zM44 627h2v1h-2zM52 627h1v1h-1zM57 627h2v1h-2zM91 627h1v1h-1zM101 627h2v1h-2zM248 627h1v1h-1zM253 627h2v1h-2zM281 627h2v1h-2zM335 627h1v1h-1zM621 627h2v1h-2zM628 627h1v1h-1zM799 627h1v1h-1zM902 627h5v1h-5zM947 627h2v1h-2zM951 627h1v1h-1zM1132 627h4v1h-4zM1140 627h3v1h-3zM1195 627h1v1h-1zM1206 627h1v1h-1zM222 627h1v2h-1zM738 627h1v2h-1zM748 627h1v2h-1zM824 627h1v2h-1zM916 627h1v2h-1zM928 627h1v2h-1zM963 627h1v2h-1zM1125 627h1v2h-1zM1193 627h1v2h-1zM236 627h1v3h-1zM43 628h1v1h-1zM53 628h1v1h-1zM55 628h2v1h-2zM92 628h2v1h-2zM99 628h2v1h-2zM247 628h1v1h-1zM374 628h1v1h-1zM619 628h2v1h-2zM812 628h1v1h-1zM907 628h1v1h-1zM940 628h7v1h-7zM952 628h2v1h-2zM1129 628h3v1h-3zM1178 628h1v1h-1zM1205 628h1v1h-1zM1207 628h1v1h-1zM283 628h1v2h-1zM629 628h1v2h-1zM798 628h1v2h-1zM1196 628h1v2h-1zM569 628h1v4h-1zM42 629h1v1h-1zM54 629h1v1h-1zM94 629h5v1h-5zM174 629h2v1h-2zM246 629h1v1h-1zM375 629h1v1h-1zM908 629h2v1h-2zM929 629h1v1h-1zM937 629h3v1h-3zM954 629h9v1h-9zM1127 629h2v1h-2zM1177 629h1v1h-1zM1179 629h1v1h-1zM1204 629h1v1h-1zM1208 629h2v1h-2zM1222 629h2v1h-2zM306 629h1v2h-1zM345 629h1v2h-1zM373 629h1v2h-1zM618 629h1v2h-1zM737 629h1v2h-1zM749 629h1v2h-1zM813 629h1v2h-1zM823 629h1v2h-1zM915 629h1v2h-1zM1126 629h1v2h-1zM1166 629h1v2h-1zM1192 629h1v2h-1zM221 629h1v3h-1zM173 630h1v1h-1zM176 630h3v1h-3zM244 630h2v1h-2zM284 630h1v1h-1zM376 630h1v1h-1zM630 630h2v1h-2zM682 630h1v1h-1zM910 630h2v1h-2zM930 630h2v1h-2zM935 630h2v1h-2zM1167 630h4v1h-4zM1176 630h1v1h-1zM1180 630h1v1h-1zM1197 630h1v1h-1zM1203 630h1v1h-1zM1210 630h1v1h-1zM1221 630h1v1h-1zM1224 630h2v1h-2zM41 630h1v2h-1zM237 630h1v2h-1zM582 630h1v2h-1zM797 630h1v2h-1zM1226 630h1v2h-1zM129 630h1v4h-1zM520 630h1v6h-1zM172 631h1v1h-1zM179 631h2v1h-2zM184 631h3v1h-3zM243 631h1v1h-1zM296 631h3v1h-3zM304 631h2v1h-2zM377 631h1v1h-1zM432 631h3v1h-3zM581 631h1v1h-1zM632 631h3v1h-3zM668 631h4v1h-4zM681 631h1v1h-1zM683 631h1v1h-1zM750 631h1v1h-1zM814 631h9v1h-9zM912 631h3v1h-3zM932 631h3v1h-3zM1171 631h2v1h-2zM1175 631h1v1h-1zM1181 631h1v1h-1zM1198 631h5v1h-5zM1211 631h2v1h-2zM1220 631h1v1h-1zM285 631h1v2h-1zM346 631h1v2h-1zM372 631h1v2h-1zM736 631h1v2h-1zM1191 631h1v2h-1zM617 631h1v3h-1zM40 632h1v1h-1zM171 632h1v1h-1zM181 632h3v1h-3zM240 632h3v1h-3zM294 632h2v1h-2zM299 632h2v1h-2zM303 632h1v1h-1zM366 632h1v1h-1zM378 632h1v1h-1zM431 632h1v1h-1zM580 632h1v1h-1zM635 632h1v1h-1zM666 632h2v1h-2zM672 632h3v1h-3zM680 632h1v1h-1zM684 632h1v1h-1zM1173 632h2v1h-2zM1182 632h1v1h-1zM1213 632h3v1h-3zM1219 632h1v1h-1zM187 632h1v2h-1zM238 632h1v2h-1zM430 632h1v2h-1zM435 632h1v2h-1zM583 632h1v2h-1zM751 632h1v2h-1zM220 632h1v3h-1zM570 632h1v3h-1zM796 632h1v3h-1zM1227 632h1v3h-1zM168 633h3v1h-3zM239 633h1v1h-1zM286 633h1v1h-1zM293 633h1v1h-1zM301 633h2v1h-2zM347 633h1v1h-1zM364 633h2v1h-2zM367 633h1v1h-1zM579 633h1v1h-1zM636 633h1v1h-1zM665 633h1v1h-1zM675 633h2v1h-2zM679 633h1v1h-1zM685 633h1v1h-1zM778 633h1v1h-1zM1183 633h1v1h-1zM1189 633h2v1h-2zM1216 633h3v1h-3zM39 633h1v2h-1zM371 633h1v2h-1zM379 633h1v2h-1zM735 633h1v2h-1zM18 634h1v1h-1zM167 634h1v1h-1zM287 634h1v1h-1zM292 634h1v1h-1zM348 634h2v1h-2zM363 634h1v1h-1zM368 634h2v1h-2zM436 634h1v1h-1zM571 634h8v1h-8zM637 634h1v1h-1zM677 634h2v1h-2zM686 634h1v1h-1zM752 634h1v1h-1zM777 634h1v1h-1zM779 634h1v1h-1zM1184 634h2v1h-2zM1187 634h2v1h-2zM166 634h1v2h-1zM188 634h1v2h-1zM429 634h1v2h-1zM616 634h1v2h-1zM664 634h1v2h-1zM130 634h1v3h-1zM584 634h1v3h-1zM19 635h1v1h-1zM25 635h6v1h-6zM38 635h1v1h-1zM132 635h3v1h-3zM288 635h2v1h-2zM291 635h1v1h-1zM350 635h1v1h-1zM360 635h3v1h-3zM370 635h1v1h-1zM638 635h1v1h-1zM658 635h1v1h-1zM687 635h1v1h-1zM694 635h2v1h-2zM733 635h2v1h-2zM766 635h2v1h-2zM780 635h2v1h-2zM1186 635h1v1h-1zM1264 635h2v1h-2zM17 635h1v2h-1zM380 635h1v2h-1zM437 635h1v2h-1zM753 635h1v2h-1zM776 635h1v2h-1zM795 635h1v2h-1zM219 635h1v3h-1zM1228 635h1v3h-1zM20 636h2v1h-2zM23 636h2v1h-2zM31 636h1v1h-1zM37 636h1v1h-1zM131 636h1v1h-1zM135 636h1v1h-1zM214 636h1v1h-1zM290 636h1v1h-1zM351 636h1v1h-1zM357 636h3v1h-3zM639 636h1v1h-1zM659 636h2v1h-2zM663 636h1v1h-1zM688 636h1v1h-1zM692 636h2v1h-2zM696 636h8v1h-8zM731 636h2v1h-2zM765 636h1v1h-1zM768 636h3v1h-3zM782 636h1v1h-1zM1260 636h4v1h-4zM189 636h1v2h-1zM428 636h1v2h-1zM657 636h1v2h-1zM165 636h1v3h-1zM615 636h1v3h-1zM519 636h1v5h-1zM22 637h1v1h-1zM215 637h1v1h-1zM352 637h2v1h-2zM355 637h2v1h-2zM394 637h1v1h-1zM438 637h1v1h-1zM640 637h1v1h-1zM661 637h2v1h-2zM689 637h1v1h-1zM691 637h1v1h-1zM704 637h3v1h-3zM728 637h3v1h-3zM754 637h1v1h-1zM764 637h1v1h-1zM771 637h2v1h-2zM775 637h1v1h-1zM783 637h1v1h-1zM789 637h3v1h-3zM1258 637h2v1h-2zM16 637h1v2h-1zM32 637h1v2h-1zM36 637h1v2h-1zM136 637h1v2h-1zM213 637h1v2h-1zM381 637h1v2h-1zM585 637h1v2h-1zM794 637h1v2h-1zM190 638h1v1h-1zM216 638h2v1h-2zM354 638h1v1h-1zM393 638h1v1h-1zM395 638h1v1h-1zM439 638h1v1h-1zM641 638h1v1h-1zM656 638h1v1h-1zM690 638h1v1h-1zM707 638h2v1h-2zM726 638h2v1h-2zM755 638h1v1h-1zM763 638h1v1h-1zM773 638h2v1h-2zM784 638h2v1h-2zM787 638h2v1h-2zM792 638h2v1h-2zM218 638h1v2h-1zM427 638h1v2h-1zM1257 638h1v2h-1zM1229 638h1v3h-1zM33 639h1v1h-1zM35 639h1v1h-1zM137 639h1v1h-1zM191 639h2v1h-2zM212 639h1v1h-1zM382 639h5v1h-5zM392 639h1v1h-1zM396 639h1v1h-1zM440 639h2v1h-2zM642 639h1v1h-1zM709 639h3v1h-3zM724 639h2v1h-2zM756 639h2v1h-2zM760 639h3v1h-3zM786 639h1v1h-1zM15 639h1v2h-1zM164 639h1v2h-1zM586 639h1v2h-1zM614 639h1v2h-1zM655 639h1v2h-1zM34 640h1v1h-1zM138 640h1v1h-1zM150 640h1v1h-1zM193 640h2v1h-2zM387 640h2v1h-2zM391 640h1v1h-1zM397 640h1v1h-1zM442 640h1v1h-1zM613 640h1v1h-1zM643 640h1v1h-1zM712 640h4v1h-4zM723 640h1v1h-1zM758 640h2v1h-2zM211 640h1v2h-1zM1256 640h1v2h-1zM426 640h1v3h-1zM14 641h1v1h-1zM139 641h1v1h-1zM149 641h1v1h-1zM151 641h1v1h-1zM195 641h2v1h-2zM389 641h2v1h-2zM398 641h1v1h-1zM443 641h1v1h-1zM611 641h2v1h-2zM644 641h2v1h-2zM648 641h7v1h-7zM716 641h7v1h-7zM587 641h1v2h-1zM1230 641h1v2h-1zM163 641h1v3h-1zM518 641h1v3h-1zM13 642h1v1h-1zM140 642h1v1h-1zM148 642h1v1h-1zM152 642h1v1h-1zM197 642h6v1h-6zM209 642h2v1h-2zM399 642h1v1h-1zM444 642h1v1h-1zM610 642h1v1h-1zM646 642h2v1h-2zM1255 642h1v2h-1zM141 643h1v1h-1zM147 643h1v1h-1zM153 643h1v1h-1zM203 643h2v1h-2zM207 643h2v1h-2zM400 643h1v1h-1zM445 643h1v1h-1zM517 643h1v1h-1zM608 643h2v1h-2zM1231 643h2v1h-2zM12 643h1v2h-1zM425 643h1v2h-1zM588 643h1v2h-1zM142 644h5v1h-5zM154 644h6v1h-6zM205 644h2v1h-2zM401 644h1v1h-1zM446 644h1v1h-1zM515 644h2v1h-2zM607 644h1v1h-1zM1233 644h2v1h-2zM1254 644h1v1h-1zM162 644h1v2h-1zM11 645h1v1h-1zM160 645h2v1h-2zM402 645h1v1h-1zM447 645h1v1h-1zM512 645h3v1h-3zM1235 645h2v1h-2zM424 645h1v2h-1zM589 645h1v2h-1zM606 645h1v2h-1zM1253 645h1v2h-1zM10 646h1v1h-1zM403 646h1v1h-1zM409 646h2v1h-2zM448 646h1v1h-1zM504 646h8v1h-8zM1237 646h3v1h-3zM9 647h1v1h-1zM404 647h2v1h-2zM407 647h2v1h-2zM411 647h1v1h-1zM449 647h1v1h-1zM503 647h1v1h-1zM590 647h1v1h-1zM1240 647h3v1h-3zM1252 647h1v1h-1zM423 647h1v2h-1zM502 647h1v2h-1zM605 647h1v2h-1zM2 648h1v1h-1zM406 648h1v1h-1zM412 648h2v1h-2zM450 648h2v1h-2zM591 648h1v1h-1zM1243 648h1v1h-1zM8 648h1v2h-1zM1251 648h1v2h-1zM3 649h1v1h-1zM414 649h2v1h-2zM452 649h3v1h-3zM1244 649h1v1h-1zM422 649h1v2h-1zM592 649h1v2h-1zM604 649h1v2h-1zM501 649h1v3h-1zM4 650h2v1h-2zM7 650h1v1h-1zM416 650h6v1h-6zM455 650h2v1h-2zM1245 650h1v1h-1zM1248 650h3v1h-3zM6 651h1v1h-1zM457 651h2v1h-2zM593 651h1v1h-1zM1246 651h2v1h-2zM603 651h1v2h-1zM459 652h2v1h-2zM594 652h6v1h-6zM500 652h1v4h-1zM461 653h3v1h-3zM600 653h3v1h-3zM464 654h3v1h-3zM467 655h2v1h-2zM469 656h2v1h-2zM499 656h1v3h-1zM471 657h1v1h-1zM472 658h1v1h-1zM473 659h1v1h-1zM498 659h1v2h-1zM474 660h6v1h-6zM480 661h4v1h-4zM497 661h1v1h-1zM484 662h7v1h-7zM496 662h1v1h-1zM491 663h2v1h-2zM495 663h1v1h-1zM493 664h2v1h-2z"/>
</g>
<g id="macd">
<g shape-rendering="crispEdges">
<path fill="#c0c0c0" d="M2 748h1v13h-1zM6 748h1v15h-1zM10 748h1v15h-1zM14 748h1v15h-1zM18 748h1v13h-1zM22 748h1v12h-1zM26 748h1v10h-1zM30 748h1v9h-1zM34 748h1v9h-1zM38 748h1v8h-1zM42 748h1v6h-1zM46 748h1v3h-1zM50 748h1v1h-1zM54 748h1v1h-1zM58 748h1v1h-1zM62 745h1v4h-1zM66 742h1v7h-1zM70 738h1v11h-1zM74 735h1v14h-1zM78 734h1v15h-1zM82 733h1v16h-1zM86 733h1v16h-1zM90 734h1v15h-1zM94 736h1v13h-1zM98 737h1v12h-1zM102 738h1v11h-1zM106 738h1v11h-1zM110 738h1v11h-1zM114 736h1v13h-1zM118 735h1v14h-1zM122 735h1v14h-1zM126 735h1v14h-1zM130 738h1v11h-1zM134 740h1v9h-1zM138 743h1v6h-1zM142 746h1v3h-1zM146 748h1v1h-1zM150 748h1v1h-1zM154 748h1v3h-1zM158 748h1v5h-1zM162 748h1v6h-1zM166 748h1v5h-1zM170 748h1v5h-1zM174 748h1v3h-1zM178 748h1v2h-1zM182 748h1v2h-1zM186 748h1v1h-1zM190 748h1v2h-1zM194 748h1v3h-1zM198 748h1v4h-1zM202 748h1v5h-1zM206 748h1v6h-1zM210 748h1v6h-1zM214 748h1v6h-1zM218 748h1v6h-1zM222 748h1v4h-1zM226 748h1v2h-1zM230 748h1v1h-1zM234 747h1v2h-1zM238 748h1v1h-1zM242 748h1v1h-1zM246 747h1v2h-1zM250 746h1v3h-1zM254 746h1v3h-1zM258 744h1v5h-1zM262 742h1v7h-1zM266 742h1v7h-1zM270 740h1v9h-1zM274 739h1v10h-1zM278 739h1v10h-1zM282 740h1v9h-1zM286 741h1v8h-1zM290 743h1v6h-1zM294 744h1v5h-1zM298 744h1v5h-1zM302 745h1v4h-1zM306 745h1v4h-1zM310 743h1v6h-1zM314 741h1v8h-1zM318 739h1v10h-1zM322 736h1v13h-1zM326 735h1v14h-1zM330 734h1v15h-1zM334 735h1v14h-1zM338 736h1v13h-1zM342 736h1v13h-1zM346 738h1v11h-1zM350 740h1v9h-1zM354 743h1v6h-1zM358 744h1v5h-1zM362 745h1v4h-1zM366 746h1v3h-1zM370 747h1v2h-1zM374 746h1v3h-1zM378 746h1v3h-1zM382 748h1v1h-1zM386 748h1v1h-1zM390 748h1v2h-1zM394 748h1v2h-1zM398 748h1v4h-1zM402 748h1v5h-1zM406 748h1v8h-1zM410 748h1v9h-1zM414 748h1v10h-1zM418 748h1v12h-1zM422 748h1v13h-1zM426 748h1v12h-1zM430 748h1v10h-1zM434 748h1v8h-1zM438 748h1v8h-1zM442 748h1v8h-1zM446 748h1v9h-1zM450 748h1v11h-1zM454 748h1v12h-1zM458 748h1v14h-1zM462 748h1v16h-1zM466 748h1v17h-1zM470 748h1v19h-1zM474 748h1v22h-1zM478 748h1v24h-1zM482 748h1v25h-1zM486 748h1v27h-1zM490 748h1v27h-1zM494 748h1v29h-1zM498 748h1v29h-1zM502 748h1v27h-1zM506 748h1v25h-1zM510 748h1v24h-1zM514 748h1v22h-1zM518 748h1v20h-1zM522 748h1v14h-1zM526 748h1v10h-1zM530 748h1v5h-1zM534 746h1v3h-1zM538 739h1v10h-1zM542 734h1v15h-1zM546 729h1v20h-1zM550 721h1v28h-1zM554 715h1v34h-1zM558 708h1v41h-1zM562 705h1v44h-1zM566 705h1v44h-1zM570 712h1v37h-1zM574 719h1v30h-1zM578 724h1v25h-1zM582 727h1v22h-1zM586 734h1v15h-1zM590 745h1v4h-1zM594 748h1v9h-1zM598 748h1v20h-1zM602 748h1v29h-1zM606 748h1v32h-1zM610 748h1v33h-1zM614 748h1v32h-1zM618 748h1v25h-1zM622 748h1v17h-1zM626 748h1v9h-1zM630 748h1v6h-1zM634 748h1v4h-1zM638 748h1v5h-1zM642 748h1v8h-1zM646 748h1v12h-1zM650 748h1v15h-1zM654 748h1v18h-1zM658 748h1v16h-1zM662 748h1v16h-1zM666 748h1v13h-1zM670 748h1v10h-1zM674 748h1v9h-1zM678 748h1v8h-1zM682 748h1v5h-1zM686 748h1v5h-1zM690 748h1v7h-1zM694 748h1v7h-1zM698 748h1v8h-1zM702 748h1v8h-1zM706 748h1v9h-1zM710 748h1v10h-1zM714 748h1v11h-1zM718 748h1v13h-1zM722 748h1v14h-1zM726 748h1v13h-1zM730 748h1v12h-1zM734 748h1v11h-1zM738 748h1v7h-1zM742 748h1v2h-1zM746 748h1v1h-1zM750 747h1v2h-1zM754 748h1v1h-1zM758 748h1v3h-1zM762 748h1v5h-1zM766 748h1v5h-1zM770 748h1v5h-1zM774 748h1v6h-1zM778 748h1v5h-1zM782 748h1v6h-1zM786 748h1v7h-1zM790 748h1v7h-1zM794 748h1v8h-1zM798 748h1v5h-1zM802 748h1v1h-1zM806 746h1v3h-1zM810 744h1v5h-1zM814 744h1v5h-1zM818 744h1v5h-1zM822 744h1v5h-1zM826 742h1v7h-1zM830 740h1v9h-1zM834 736h1v13h-1zM838 731h1v18h-1zM842 728h1v21h-1zM846 725h1v24h-1zM850 721h1v28h-1zM854 716h1v33h-1zM858 709h1v40h-1zM862 706h1v43h-1zM866 704h1v45h-1zM870 702h1v47h-1zM874 700h1v49h-1zM878 699h1v50h-1zM882 697h1v52h-1zM886 701h1v48h-1zM890 705h1v44h-1zM894 708h1v41h-1zM898 711h1v38h-1zM902 715h1v34h-1zM906 718h1v31h-1zM910 722h1v27h-1zM914 726h1v23h-1zM918 726h1v23h-1zM922 725h1v24h-1zM926 726h1v23h-1zM930 729h1v20h-1zM934 731h1v18h-1zM938 733h1v16h-1zM942 734h1v15h-1zM946 735h1v14h-1zM950 735h1v14h-1zM954 736h1v13h-1zM958 737h1v12h-1zM962 738h1v11h-1zM966 737h1v12h-1zM970 736h1v13h-1zM974 734h1v15h-1zM978 735h1v14h-1zM982 734h1v15h-1zM986 734h1v15h-1zM990 733h1v16h-1zM994 730h1v19h-1zM998 728h1v21h-1zM1002 726h1v23h-1zM1006 725h1v24h-1zM1010 724h1v25h-1zM1014 723h1v26h-1zM1018 721h1v28h-1zM1022 717h1v32h-1zM1026 713h1v36h-1zM1030 709h1v40h-1zM1034 707h1v42h-1zM1038 702h1v47h-1zM1042 699h1v50h-1zM1046 696h1v53h-1zM1050 694h1v55h-1zM1054 691h1v58h-1zM1058 691h1v58h-1zM1062 693h1v56h-1zM1066 695h1v54h-1zM1070 692h1v57h-1zM1074 692h1v57h-1zM1078 696h1v53h-1zM1082 699h1v50h-1zM1086 703h1v46h-1zM1090 706h1v43h-1zM1094 708h1v41h-1zM1098 709h1v40h-1zM1102 710h1v39h-1zM1106 711h1v38h-1zM1110 711h1v38h-1zM1114 710h1v39h-1zM1118 710h1v39h-1zM1122 712h1v37h-1zM1126 717h1v32h-1zM1130 720h1v29h-1zM1134 723h1v26h-1zM1138 725h1v24h-1zM1142 727h1v22h-1zM1146 729h1v20h-1zM1150 727h1v22h-1zM1154 727h1v22h-1zM1158 725h1v24h-1zM1162 723h1v26h-1zM1166 726h1v23h-1zM1170 729h1v20h-1zM1174 732h1v17h-1zM1178 733h1v16h-1zM1182 736h1v13h-1zM1186 739h1v10h-1zM1190 740h1v9h-1zM1194 740h1v9h-1zM1198 741h1v8h-1zM1202 742h1v7h-1zM1206 741h1v8h-1zM1210 741h1v8h-1zM1214 742h1v7h-1zM1218 743h1v6h-1zM1222 743h1v6h-1zM1226 743h1v6h-1zM1230 747h1v2h-1zM1234 748h1v3h-1zM1238 748h1v7h-1zM1242 748h1v10h-1zM1246 748h1v15h-1zM1250 748h1v18h-1zM1254 748h1v19h-1zM1258 748h1v17h-1zM1262 748h1v16h-1zM1266 748h1v14h-1z"/>
<path fill="#ff0000" d="M1075 693h3v1h-3zM1081 693h3v1h-3zM1069 694h3v1h-3zM1087 694h1v1h-1zM1088 695h2v1h-2zM1064 696h2v1h-2zM1063 697h1v1h-1zM1093 697h2v1h-2zM1059 698h1v1h-1zM1095 698h1v1h-1zM1058 699h1v1h-1zM1057 700h1v1h-1zM1099 700h2v1h-2zM895 701h1v1h-1zM1101 701h1v1h-1zM889 702h3v1h-3zM896 702h2v1h-2zM885 703h1v1h-1zM901 703h2v1h-2zM1052 703h2v1h-2zM1105 703h2v1h-2zM883 704h2v1h-2zM903 704h1v1h-1zM1051 704h1v1h-1zM1107 704h1v1h-1zM1111 705h1v1h-1zM907 706h2v1h-2zM1112 706h2v1h-2zM879 707h1v1h-1zM909 707h1v1h-1zM1117 707h2v1h-2zM878 708h1v1h-1zM1047 708h1v1h-1zM1119 708h1v1h-1zM877 709h1v1h-1zM913 709h1v1h-1zM1046 709h1v1h-1zM1123 709h1v1h-1zM914 710h1v1h-1zM1045 710h1v1h-1zM1124 710h2v1h-2zM915 711h1v1h-1zM1129 711h2v1h-2zM873 712h1v1h-1zM1131 712h1v1h-1zM872 713h1v1h-1zM1040 713h2v1h-2zM1135 713h1v1h-1zM579 714h3v1h-3zM871 714h1v1h-1zM1039 714h1v1h-1zM1136 714h2v1h-2zM575 715h1v1h-1zM919 715h2v1h-2zM573 716h2v1h-2zM585 716h2v1h-2zM921 716h1v1h-1zM1035 716h1v1h-1zM1141 716h2v1h-2zM587 717h1v1h-1zM867 717h1v1h-1zM1034 717h1v1h-1zM1143 717h1v1h-1zM866 718h1v1h-1zM925 718h1v1h-1zM1033 718h1v1h-1zM568 719h2v1h-2zM865 719h1v1h-1zM926 719h1v1h-1zM1147 719h2v1h-2zM567 720h1v1h-1zM927 720h1v1h-1zM1029 720h1v1h-1zM1149 720h1v1h-1zM591 720h1v2h-1zM1027 721h2v1h-2zM592 722h1v1h-1zM931 722h2v1h-2zM1153 722h3v1h-3zM861 723h1v1h-1zM933 723h1v1h-1zM1023 723h1v1h-1zM1159 723h1v1h-1zM564 724h1v1h-1zM1021 724h2v1h-2zM1160 724h2v1h-2zM860 724h1v2h-1zM937 725h2v1h-2zM1165 725h3v1h-3zM563 725h1v2h-1zM939 726h1v1h-1zM1017 726h1v1h-1zM1171 726h3v1h-3zM595 726h1v2h-1zM943 727h1v1h-1zM1015 727h2v1h-2zM1177 727h3v1h-3zM596 728h1v1h-1zM856 728h1v1h-1zM944 728h2v1h-2zM1183 728h1v1h-1zM855 729h1v1h-1zM949 729h3v1h-3zM1009 729h3v1h-3zM1184 729h2v1h-2zM560 730h1v1h-1zM854 730h1v1h-1zM1004 730h2v1h-2zM955 731h2v1h-2zM1003 731h1v1h-1zM1189 731h3v1h-3zM559 731h1v2h-1zM598 732h1v1h-1zM957 732h1v1h-1zM997 732h3v1h-3zM961 733h3v1h-3zM1195 733h2v1h-2zM599 733h1v2h-1zM100 734h1v1h-1zM104 734h3v1h-3zM849 734h2v1h-2zM967 734h1v1h-1zM991 734h3v1h-3zM1197 734h1v1h-1zM98 735h2v1h-2zM110 735h3v1h-3zM116 735h3v1h-3zM122 735h3v1h-3zM848 735h1v1h-1zM968 735h2v1h-2zM973 735h3v1h-3zM979 735h3v1h-3zM985 735h3v1h-3zM92 736h3v1h-3zM128 736h3v1h-3zM134 736h3v1h-3zM340 736h1v1h-1zM344 736h3v1h-3zM350 736h3v1h-3zM556 736h1v1h-1zM1201 736h3v1h-3zM140 737h3v1h-3zM338 737h2v1h-2zM356 737h3v1h-3zM843 737h2v1h-2zM1207 737h1v1h-1zM555 737h1v2h-1zM87 738h2v1h-2zM332 738h3v1h-3zM362 738h2v1h-2zM601 738h1v1h-1zM842 738h1v1h-1zM1208 738h2v1h-2zM86 739h1v1h-1zM146 739h2v1h-2zM328 739h1v1h-1zM364 739h1v1h-1zM1213 739h3v1h-3zM602 739h1v2h-1zM148 740h1v1h-1zM284 740h3v1h-3zM290 740h3v1h-3zM296 740h3v1h-3zM326 740h2v1h-2zM368 740h1v1h-1zM837 740h2v1h-2zM1219 740h3v1h-3zM81 741h2v1h-2zM152 741h1v1h-1zM280 741h1v1h-1zM302 741h3v1h-3zM320 741h3v1h-3zM369 741h2v1h-2zM836 741h1v1h-1zM1225 741h3v1h-3zM80 742h1v1h-1zM153 742h2v1h-2zM278 742h2v1h-2zM308 742h3v1h-3zM314 742h3v1h-3zM374 742h2v1h-2zM552 742h1v1h-1zM1231 742h1v1h-1zM272 743h3v1h-3zM376 743h1v1h-1zM831 743h2v1h-2zM1232 743h2v1h-2zM551 743h1v2h-1zM75 744h2v1h-2zM158 744h1v1h-1zM268 744h1v1h-1zM380 744h3v1h-3zM604 744h1v1h-1zM830 744h1v1h-1zM1237 744h2v1h-2zM74 745h1v1h-1zM159 745h2v1h-2zM260 745h3v1h-3zM266 745h2v1h-2zM386 745h2v1h-2zM1239 745h1v1h-1zM605 745h1v2h-1zM256 746h1v1h-1zM388 746h1v1h-1zM825 746h2v1h-2zM164 747h1v1h-1zM254 747h2v1h-2zM392 747h3v1h-3zM824 747h1v1h-1zM1243 747h1v1h-1zM69 748h2v1h-2zM165 748h2v1h-2zM248 748h3v1h-3zM398 748h2v1h-2zM548 748h1v1h-1zM820 748h1v1h-1zM1244 748h2v1h-2zM68 749h1v1h-1zM244 749h1v1h-1zM400 749h1v1h-1zM818 749h2v1h-2zM547 749h1v2h-1zM64 750h1v1h-1zM170 750h2v1h-2zM242 750h2v1h-2zM404 750h3v1h-3zM812 750h3v1h-3zM608 750h1v2h-1zM62 751h2v1h-2zM172 751h1v1h-1zM176 751h3v1h-3zM182 751h3v1h-3zM188 751h3v1h-3zM194 751h3v1h-3zM200 751h3v1h-3zM206 751h3v1h-3zM236 751h3v1h-3zM410 751h2v1h-2zM764 751h3v1h-3zM770 751h3v1h-3zM776 751h3v1h-3zM1249 751h1v1h-1zM212 752h3v1h-3zM218 752h2v1h-2zM230 752h3v1h-3zM412 752h1v1h-1zM609 752h1v1h-1zM760 752h1v1h-1zM782 752h2v1h-2zM807 752h2v1h-2zM1250 752h1v1h-1zM56 753h3v1h-3zM220 753h1v1h-1zM224 753h3v1h-3zM416 753h1v1h-1zM758 753h2v1h-2zM784 753h1v1h-1zM788 753h3v1h-3zM806 753h1v1h-1zM1251 753h1v1h-1zM417 754h2v1h-2zM543 754h1v1h-1zM753 754h2v1h-2zM794 754h3v1h-3zM800 754h3v1h-3zM51 755h2v1h-2zM422 755h2v1h-2zM542 755h1v1h-1zM704 755h3v1h-3zM752 755h1v1h-1zM1255 755h1v1h-1zM50 756h1v1h-1zM424 756h1v1h-1zM541 756h1v1h-1zM611 756h1v1h-1zM698 756h3v1h-3zM710 756h3v1h-3zM748 756h1v1h-1zM1256 756h2v1h-2zM2 757h2v1h-2zM45 757h2v1h-2zM428 757h3v1h-3zM692 757h3v1h-3zM716 757h3v1h-3zM746 757h2v1h-2zM612 757h1v2h-1zM4 758h1v1h-1zM44 758h1v1h-1zM434 758h3v1h-3zM440 758h3v1h-3zM446 758h3v1h-3zM452 758h3v1h-3zM458 758h2v1h-2zM656 758h3v1h-3zM688 758h1v1h-1zM722 758h3v1h-3zM740 758h3v1h-3zM8 759h3v1h-3zM40 759h1v1h-1zM460 759h1v1h-1zM464 759h3v1h-3zM650 759h3v1h-3zM662 759h2v1h-2zM686 759h2v1h-2zM728 759h3v1h-3zM734 759h3v1h-3zM1261 759h2v1h-2zM14 760h2v1h-2zM32 760h3v1h-3zM38 760h2v1h-2zM538 760h1v1h-1zM664 760h1v1h-1zM680 760h3v1h-3zM1263 760h1v1h-1zM16 761h1v1h-1zM20 761h3v1h-3zM26 761h3v1h-3zM470 761h2v1h-2zM537 761h1v1h-1zM645 761h2v1h-2zM668 761h3v1h-3zM674 761h3v1h-3zM472 762h1v1h-1zM536 762h1v1h-1zM615 762h1v1h-1zM644 762h1v1h-1zM476 763h1v1h-1zM616 763h1v2h-1zM477 764h2v1h-2zM640 764h1v1h-1zM639 765h1v1h-1zM482 766h1v1h-1zM532 766h1v1h-1zM638 766h1v1h-1zM483 767h2v1h-2zM531 767h1v1h-1zM530 768h1v1h-1zM620 768h1v1h-1zM488 769h3v1h-3zM621 769h1v1h-1zM633 769h2v1h-2zM525 770h2v1h-2zM622 770h1v1h-1zM632 770h1v1h-1zM494 771h2v1h-2zM524 771h1v1h-1zM626 771h3v1h-3zM496 772h1v1h-1zM500 773h1v1h-1zM519 773h2v1h-2zM501 774h2v1h-2zM506 774h3v1h-3zM512 774h3v1h-3zM518 774h1v1h-1z"/>
</g>
</g>
<g shape-rendering="crispEdges" fill="none" stroke="#000" stroke-width="1">
<path d="M1.5 24.5 H1594.5 V579.5 H1.5 Z"/>
<path d="M1.5 581.5 H1594.5 V683.5 H1.5 Z"/>
<path d="M1.5 685.5 H1594.5 V786.5 H1.5 Z"/>
</g>
<path d="M5 31 H12 L8.5 35 Z" fill="#000"/>
<text x="16.7" y="36" font-size="10" fill="#000" textLength="64.4" lengthAdjust="spacingAndGlyphs" stroke="#000" stroke-width="0.2">EURUSD,Daily</text>
<text x="86.6" y="36" font-size="10" fill="#000" textLength="141.6" lengthAdjust="spacingAndGlyphs" stroke="#000" stroke-width="0.2">1.17213 1.17428 1.17051 1.17346</text>
<path shape-rendering="crispEdges" fill="#c0c0c0" d="M1270 25h9v1h-9zM1271 26h7v1h-7zM1272 27h5v1h-5zM1273 28h3v1h-3zM1274 29h1v1h-1z"/>
<g id="price-axis">
<g shape-rendering="crispEdges">
<rect x="1595" y="48" width="2" height="1" fill="#000"/>
<rect x="1595" y="81" width="2" height="1" fill="#000"/>
<rect x="1595" y="114" width="2" height="1" fill="#000"/>
<rect x="1595" y="147" width="2" height="1" fill="#000"/>
<rect x="1595" y="180" width="2" height="1" fill="#000"/>
<rect x="1595" y="213" width="2" height="1" fill="#000"/>
<rect x="1595" y="246" width="2" height="1" fill="#000"/>
<rect x="1595" y="279" width="2" height="1" fill="#000"/>
<rect x="1595" y="312" width="2" height="1" fill="#000"/>
<rect x="1595" y="345" width="2" height="1" fill="#000"/>
<rect x="1595" y="378" width="2" height="1" fill="#000"/>
<rect x="1595" y="411" width="2" height="1" fill="#000"/>
<rect x="1595" y="444" width="2" height="1" fill="#000"/>
<rect x="1595" y="477" width="2" height="1" fill="#000"/>
<rect x="1595" y="510" width="2" height="1" fill="#000"/>
<rect x="1595" y="543" width="2" height="1" fill="#000"/>
<rect x="1595" y="576" width="2" height="1" fill="#000"/>
</g>
<text x="1600.3" y="52" font-size="10" fill="#000" textLength="33" lengthAdjust="spacingAndGlyphs" stroke="#000" stroke-width="0.2">1.20180</text>
<text x="1600.3" y="85" font-size="10" fill="#000" textLength="33" lengthAdjust="spacingAndGlyphs" stroke="#000" stroke-width="0.2">1.19305</text>
<text x="1600.3" y="118" font-size="10" fill="#000" textLength="33" lengthAdjust="spacingAndGlyphs" stroke="#000" stroke-width="0.2">1.18430</text>
<text x="1600.3" y="151" font-size="10" fill="#000" textLength="33" lengthAdjust="spacingAndGlyphs" stroke="#000" stroke-width="0.2">1.17555</text>
<text x="1600.3" y="184" font-size="10" fill="#000" textLength="33" lengthAdjust="spacingAndGlyphs" stroke="#000" stroke-width="0.2">1.16655</text>
<text x="1600.3" y="217" font-size="10" fill="#000" textLength="33" lengthAdjust="spacingAndGlyphs" stroke="#000" stroke-width="0.2">1.15780</text>
<text x="1600.3" y="250" font-size="10" fill="#000" textLength="33" lengthAdjust="spacingAndGlyphs" stroke="#000" stroke-width="0.2">1.14905</text>
<text x="1600.3" y="283" font-size="10" fill="#000" textLength="33" lengthAdjust="spacingAndGlyphs" stroke="#000" stroke-width="0.2">1.14030</text>
<text x="1600.3" y="316" font-size="10" fill="#000" textLength="33" lengthAdjust="spacingAndGlyphs" stroke="#000" stroke-width="0.2">1.13130</text>
<text x="1600.3" y="349" font-size="10" fill="#000" textLength="33" lengthAdjust="spacingAndGlyphs" stroke="#000" stroke-width="0.2">1.12255</text>
<text x="1600.3" y="382" font-size="10" fill="#000" textLength="33" lengthAdjust="spacingAndGlyphs" stroke="#000" stroke-width="0.2">1.11380</text>
<text x="1600.3" y="415" font-size="10" fill="#000" textLength="33" lengthAdjust="spacingAndGlyphs" stroke="#000" stroke-width="0.2">1.10505</text>
<text x="1600.3" y="448" font-size="10" fill="#000" textLength="33" lengthAdjust="spacingAndGlyphs" stroke="#000" stroke-width="0.2">1.09630</text>
<text x="1600.3" y="481" font-size="10" fill="#000" textLength="33" lengthAdjust="spacingAndGlyphs" stroke="#000" stroke-width="0.2">1.08730</text>
<text x="1600.3" y="514" font-size="10" fill="#000" textLength="33" lengthAdjust="spacingAndGlyphs" stroke="#000" stroke-width="0.2">1.07855</text>
<text x="1600.3" y="547" font-size="10" fill="#000" textLength="33" lengthAdjust="spacingAndGlyphs" stroke="#000" stroke-width="0.2">1.06980</text>
<text x="1600.3" y="580" font-size="10" fill="#000" textLength="33" lengthAdjust="spacingAndGlyphs" stroke="#000" stroke-width="0.2">1.06105</text>
</g>
<g id="levels">
<g shape-rendering="crispEdges">
<rect x="2" y="155" width="1592" height="1" fill="#c0c0c0"/>
<rect x="2" y="53" width="1592" height="2" fill="#ff0000"/>
<rect x="1" y="51" width="6" height="6" fill="#ff0000"/>
<rect x="3" y="53" width="2" height="2" fill="#fff"/>
<rect x="1588" y="51" width="6" height="6" fill="#ff0000"/>
<rect x="1590" y="53" width="2" height="2" fill="#fff"/>
<rect x="1596" y="48" width="41" height="11" fill="#ff0000"/>
<rect x="2" y="91" width="1592" height="2" fill="#ff0000"/>
<rect x="1" y="89" width="6" height="6" fill="#ff0000"/>
<rect x="3" y="91" width="2" height="2" fill="#fff"/>
<rect x="1588" y="89" width="6" height="6" fill="#ff0000"/>
<rect x="1590" y="91" width="2" height="2" fill="#fff"/>
<rect x="1596" y="86" width="41" height="11" fill="#ff0000"/>
<rect x="2" y="128" width="1592" height="2" fill="#00ff00"/>
<rect x="1" y="126" width="6" height="6" fill="#00ff00"/>
<rect x="3" y="128" width="2" height="2" fill="#fff"/>
<rect x="1588" y="126" width="6" height="6" fill="#00ff00"/>
<rect x="1590" y="128" width="2" height="2" fill="#fff"/>
<rect x="1596" y="123" width="41" height="11" fill="#00ff00"/>
<rect x="2" y="166" width="1592" height="2" fill="#0000ff"/>
<rect x="1" y="164" width="6" height="6" fill="#0000ff"/>
<rect x="3" y="166" width="2" height="2" fill="#fff"/>
<rect x="1588" y="164" width="6" height="6" fill="#0000ff"/>
<rect x="1590" y="166" width="2" height="2" fill="#fff"/>
<rect x="1596" y="161" width="41" height="11" fill="#0000ff"/>
<rect x="2" y="203" width="1592" height="2" fill="#0000ff"/>
<rect x="1" y="201" width="6" height="6" fill="#0000ff"/>
<rect x="3" y="203" width="2" height="2" fill="#fff"/>
<rect x="1588" y="201" width="6" height="6" fill="#0000ff"/>
<rect x="1590" y="203" width="2" height="2" fill="#fff"/>
<rect x="1596" y="198" width="41" height="11" fill="#0000ff"/>
<rect x="1596" y="150" width="41" height="11" fill="#000"/>
</g>
<text x="1600.3" y="57" font-size="10" fill="#fff" textLength="33" lengthAdjust="spacingAndGlyphs" stroke="#fff" stroke-width="0.2">1.20037</text>
<text x="1600.3" y="95" font-size="10" fill="#fff" textLength="33" lengthAdjust="spacingAndGlyphs" stroke="#fff" stroke-width="0.2">1.19017</text>
<text x="1600.3" y="132" font-size="10" fill="#fff" textLength="33" lengthAdjust="spacingAndGlyphs" stroke="#fff" stroke-width="0.2">1.18025</text>
<text x="1600.3" y="170" font-size="10" fill="#fff" textLength="33" lengthAdjust="spacingAndGlyphs" stroke="#fff" stroke-width="0.2">1.17005</text>
<text x="1600.3" y="207" font-size="10" fill="#fff" textLength="33" lengthAdjust="spacingAndGlyphs" stroke="#fff" stroke-width="0.2">1.16013</text>
<text x="1600.3" y="158" font-size="10" fill="#fff" textLength="33" lengthAdjust="spacingAndGlyphs" stroke="#fff" stroke-width="0.2">1.17346</text>
</g>
<g shape-rendering="crispEdges">
<rect x="1595" y="582" width="1" height="1" fill="#000"/>
<rect x="1595" y="612" width="1" height="1" fill="#000"/>
<rect x="1595" y="652" width="1" height="1" fill="#000"/>
<rect x="1595" y="682" width="1" height="1" fill="#000"/>
<rect x="1595" y="686" width="1" height="1" fill="#000"/>
<rect x="1595" y="748" width="1" height="1" fill="#000"/>
<rect x="1595" y="785" width="1" height="1" fill="#000"/>
</g>
<text x="5.7" y="594" font-size="10" fill="#000" textLength="68.6" lengthAdjust="spacingAndGlyphs" stroke="#000" stroke-width="0.2">RSI(14) 47.5057</text>
<text x="1598" y="592" font-size="10" fill="#000" textLength="15.2" lengthAdjust="spacingAndGlyphs" stroke="#000" stroke-width="0.2">100</text>
<text x="1597" y="616" font-size="10" fill="#000" textLength="10.4" lengthAdjust="spacingAndGlyphs" stroke="#000" stroke-width="0.2">70</text>
<text x="1597" y="656" font-size="10" fill="#000" textLength="10.4" lengthAdjust="spacingAndGlyphs" stroke="#000" stroke-width="0.2">30</text>
<text x="1598" y="680" font-size="10" fill="#000" stroke="#000" stroke-width="0.2">0</text>
<text x="5.7" y="698" font-size="10" fill="#000" textLength="154.4" lengthAdjust="spacingAndGlyphs" stroke="#000" stroke-width="0.2">MACD(12,26,9) -0.003387 -0.003178</text>
<text x="1598" y="696" font-size="10" fill="#000" textLength="38" lengthAdjust="spacingAndGlyphs" stroke="#000" stroke-width="0.2">0.014556</text>
<text x="1598" y="752" font-size="10" fill="#000" textLength="18" lengthAdjust="spacingAndGlyphs" stroke="#000" stroke-width="0.2">0.00</text>
<text x="1598" y="784" font-size="10" fill="#000" textLength="41.5" lengthAdjust="spacingAndGlyphs" stroke="#000" stroke-width="0.2">-0.009001</text>
<g id="date-axis">
<g shape-rendering="crispEdges">
<rect x="2" y="787" width="1" height="3" fill="#000"/>
<rect x="66" y="787" width="1" height="3" fill="#000"/>
<rect x="130" y="787" width="1" height="3" fill="#000"/>
<rect x="194" y="787" width="1" height="3" fill="#000"/>
<rect x="258" y="787" width="1" height="3" fill="#000"/>
<rect x="322" y="787" width="1" height="3" fill="#000"/>
<rect x="386" y="787" width="1" height="3" fill="#000"/>
<rect x="450" y="787" width="1" height="3" fill="#000"/>
<rect x="514" y="787" width="1" height="3" fill="#000"/>
<rect x="578" y="787" width="1" height="3" fill="#000"/>
<rect x="642" y="787" width="1" height="3" fill="#000"/>
<rect x="706" y="787" width="1" height="3" fill="#000"/>
<rect x="770" y="787" width="1" height="3" fill="#000"/>
<rect x="834" y="787" width="1" height="3" fill="#000"/>
<rect x="898" y="787" width="1" height="3" fill="#000"/>
<rect x="962" y="787" width="1" height="3" fill="#000"/>
<rect x="1026" y="787" width="1" height="3" fill="#000"/>
<rect x="1090" y="787" width="1" height="3" fill="#000"/>
<rect x="1154" y="787" width="1" height="3" fill="#000"/>
<rect x="1218" y="787" width="1" height="3" fill="#000"/>
</g>
<text x="0.5" y="799" font-size="10" fill="#000" textLength="53.3" lengthAdjust="spacingAndGlyphs" stroke="#000" stroke-width="0.2">28 Sep 2019</text>
<text x="64.5" y="799" font-size="10" fill="#000" textLength="51.9" lengthAdjust="spacingAndGlyphs" stroke="#000" stroke-width="0.2">17 Oct 2019</text>
<text x="128.5" y="799" font-size="10" fill="#000" textLength="49.8" lengthAdjust="spacingAndGlyphs" stroke="#000" stroke-width="0.2">5 Nov 2019</text>
<text x="192.5" y="799" font-size="10" fill="#000" textLength="54.9" lengthAdjust="spacingAndGlyphs" stroke="#000" stroke-width="0.2">23 Nov 2019</text>
<text x="256.5" y="799" font-size="10" fill="#000" textLength="52" lengthAdjust="spacingAndGlyphs" stroke="#000" stroke-width="0.2">12 Dec 2019</text>
<text x="320.5" y="799" font-size="10" fill="#000" textLength="52.4" lengthAdjust="spacingAndGlyphs" stroke="#000" stroke-width="0.2">31 Dec 2019</text>
<text x="384.5" y="799" font-size="10" fill="#000" textLength="50.3" lengthAdjust="spacingAndGlyphs" stroke="#000" stroke-width="0.2">18 Jan 2020</text>
<text x="448.5" y="799" font-size="10" fill="#000" textLength="48.1" lengthAdjust="spacingAndGlyphs" stroke="#000" stroke-width="0.2">6 Feb 2020</text>
<text x="512.5" y="799" font-size="10" fill="#000" textLength="52.6" lengthAdjust="spacingAndGlyphs" stroke="#000" stroke-width="0.2">25 Feb 2020</text>
<text x="576.5" y="799" font-size="10" fill="#000" textLength="52.8" lengthAdjust="spacingAndGlyphs" stroke="#000" stroke-width="0.2">14 Mar 2020</text>
<text x="640.5" y="799" font-size="10" fill="#000" textLength="46" lengthAdjust="spacingAndGlyphs" stroke="#000" stroke-width="0.2">2 Apr 2020</text>
<text x="704.5" y="799" font-size="10" fill="#000" textLength="51.1" lengthAdjust="spacingAndGlyphs" stroke="#000" stroke-width="0.2">21 Apr 2020</text>
<text x="768.5" y="799" font-size="10" fill="#000" textLength="49.8" lengthAdjust="spacingAndGlyphs" stroke="#000" stroke-width="0.2">9 May 2020</text>
<text x="832.5" y="799" font-size="10" fill="#000" textLength="55.6" lengthAdjust="spacingAndGlyphs" stroke="#000" stroke-width="0.2">28 May 2020</text>
<text x="896.5" y="799" font-size="10" fill="#000" textLength="50.9" lengthAdjust="spacingAndGlyphs" stroke="#000" stroke-width="0.2">16 Jun 2020</text>
<text x="960.5" y="799" font-size="10" fill="#000" textLength="42.8" lengthAdjust="spacingAndGlyphs" stroke="#000" stroke-width="0.2">4 Jul 2020</text>
<text x="1024.5" y="799" font-size="10" fill="#000" textLength="47.3" lengthAdjust="spacingAndGlyphs" stroke="#000" stroke-width="0.2">23 Jul 2020</text>
<text x="1088.5" y="799" font-size="10" fill="#000" textLength="53.3" lengthAdjust="spacingAndGlyphs" stroke="#000" stroke-width="0.2">11 Aug 2020</text>
<text x="1152.5" y="799" font-size="10" fill="#000" textLength="53.6" lengthAdjust="spacingAndGlyphs" stroke="#000" stroke-width="0.2">29 Aug 2020</text>
<text x="1216.5" y="799" font-size="10" fill="#000" textLength="52.3" lengthAdjust="spacingAndGlyphs" stroke="#000" stroke-width="0.2">17 Sep 2020</text>
</g>
<g id="tabs">
<g shape-rendering="crispEdges">
<rect x="0" y="807" width="1637" height="1" fill="#e3e3e3"/>
<rect x="0" y="808" width="1637" height="1" fill="#fff"/>
<rect x="0" y="809" width="1637" height="1" fill="#000"/>
<rect x="0" y="810" width="1637" height="1" fill="#fff"/>
<rect x="0" y="811" width="1637" height="24" fill="#f0f0f0"/>
<rect x="0" y="829" width="1637" height="1" fill="#fff"/>
<rect x="0" y="833" width="1637" height="1" fill="#a0a0a0"/>
<rect x="3" y="809" width="104" height="19" fill="#000"/>
<rect x="4" y="808" width="102" height="19" fill="#fff"/>
</g>
<text x="15.5" y="824" font-size="12.5" fill="#000" textLength="79.7" lengthAdjust="spacingAndGlyphs" stroke="#000" stroke-width="0.2">EURUSD,Daily</text>
<text x="117.2" y="824" font-size="12.5" fill="#6c6c6c" textLength="78.9" lengthAdjust="spacingAndGlyphs" stroke="#6c6c6c" stroke-width="0.1">USDCHF,Daily</text>
<text x="218.4" y="824" font-size="12.5" fill="#6c6c6c" textLength="81.6" lengthAdjust="spacingAndGlyphs" stroke="#6c6c6c" stroke-width="0.1">AUDUSD,Daily</text>
<text x="322.3" y="824" font-size="12.5" fill="#6c6c6c" textLength="80.4" lengthAdjust="spacingAndGlyphs" stroke="#6c6c6c" stroke-width="0.1">USDCAD,Daily</text>
<text x="425.5" y="824" font-size="12.5" fill="#6c6c6c" textLength="82.7" lengthAdjust="spacingAndGlyphs" stroke="#6c6c6c" stroke-width="0.1">USDCNH,Daily</text>
<text x="531.2" y="824" font-size="12.5" fill="#6c6c6c" textLength="79.9" lengthAdjust="spacingAndGlyphs" stroke="#6c6c6c" stroke-width="0.1">EURUSD,Daily</text>
<text x="634.9" y="824" font-size="12.5" fill="#6c6c6c" textLength="67.6" lengthAdjust="spacingAndGlyphs" stroke="#6c6c6c" stroke-width="0.1">GBPUSD,H1</text>
<text x="725" y="824" font-size="12.5" fill="#6c6c6c" textLength="78.7" lengthAdjust="spacingAndGlyphs" stroke="#6c6c6c" stroke-width="0.1">XAUUSD,M15</text>
<text x="826.3" y="824" font-size="12.5" fill="#6c6c6c" textLength="49.3" lengthAdjust="spacingAndGlyphs" stroke="#6c6c6c" stroke-width="0.1">HK50,H1</text>
<text x="898.4" y="824" font-size="12.5" fill="#6c6c6c" textLength="56.3" lengthAdjust="spacingAndGlyphs" stroke="#6c6c6c" stroke-width="0.1">UK100,H1</text>
<text x="978.3" y="824" font-size="12.5" fill="#6c6c6c" textLength="56.6" lengthAdjust="spacingAndGlyphs" stroke="#6c6c6c" stroke-width="0.1">UK100,H1</text>
<text x="1057.9" y="824" font-size="12.5" fill="#6c6c6c" textLength="56.6" lengthAdjust="spacingAndGlyphs" stroke="#6c6c6c" stroke-width="0.1">GER30,H1</text>
<text x="1137" y="824" font-size="12.5" fill="#6c6c6c" textLength="54.1" lengthAdjust="spacingAndGlyphs" stroke="#6c6c6c" stroke-width="0.1">FRA40,H1</text>
<text x="1213.2" y="824" font-size="12.5" fill="#6c6c6c" textLength="50.9" lengthAdjust="spacingAndGlyphs" stroke="#6c6c6c" stroke-width="0.1">USOil,H4</text>
<text x="1285.1" y="824" font-size="12.5" fill="#6c6c6c" textLength="75.1" lengthAdjust="spacingAndGlyphs" stroke="#6c6c6c" stroke-width="0.1">USDJPY,Daily</text>
<text x="1381.3" y="824" font-size="12.5" fill="#6c6c6c" textLength="59.1" lengthAdjust="spacingAndGlyphs" stroke="#6c6c6c" stroke-width="0.1">DJ30,Daily</text>
<text x="1461.2" y="824" font-size="12.5" fill="#6c6c6c" textLength="78.8" lengthAdjust="spacingAndGlyphs" stroke="#6c6c6c" stroke-width="0.1">CHINA300,H1</text>
<text x="1561.3" y="824" font-size="12.5" fill="#6c6c6c" textLength="43.4" lengthAdjust="spacingAndGlyphs" stroke="#6c6c6c" stroke-width="0.1">USOil,H</text>
<g shape-rendering="crispEdges">
<rect x="207" y="812" width="1" height="14" fill="#585858"/>
<rect x="311" y="812" width="1" height="14" fill="#585858"/>
<rect x="415" y="812" width="1" height="14" fill="#585858"/>
<rect x="519" y="812" width="1" height="14" fill="#585858"/>
<rect x="623" y="812" width="1" height="14" fill="#585858"/>
<rect x="715" y="812" width="1" height="14" fill="#585858"/>
<rect x="815" y="812" width="1" height="14" fill="#585858"/>
<rect x="887" y="812" width="1" height="14" fill="#585858"/>
<rect x="967" y="812" width="1" height="14" fill="#585858"/>
<rect x="1047" y="812" width="1" height="14" fill="#585858"/>
<rect x="1127" y="812" width="1" height="14" fill="#585858"/>
<rect x="1203" y="812" width="1" height="14" fill="#585858"/>
<rect x="1275" y="812" width="1" height="14" fill="#585858"/>
<rect x="1371" y="812" width="1" height="14" fill="#585858"/>
<rect x="1451" y="812" width="1" height="14" fill="#585858"/>
<rect x="1551" y="812" width="1" height="14" fill="#585858"/>
</g>
<path shape-rendering="crispEdges" fill="#a0a0a0" d="M1612 815h1v6h-1zM1611 816h1v4h-1zM1610 817h1v2h-1z"/>
<path shape-rendering="crispEdges" fill="#000" d="M1629 815h1v6h-1zM1630 816h1v4h-1zM1631 817h1v2h-1z"/>
</g>
</svg>
</body></html>
